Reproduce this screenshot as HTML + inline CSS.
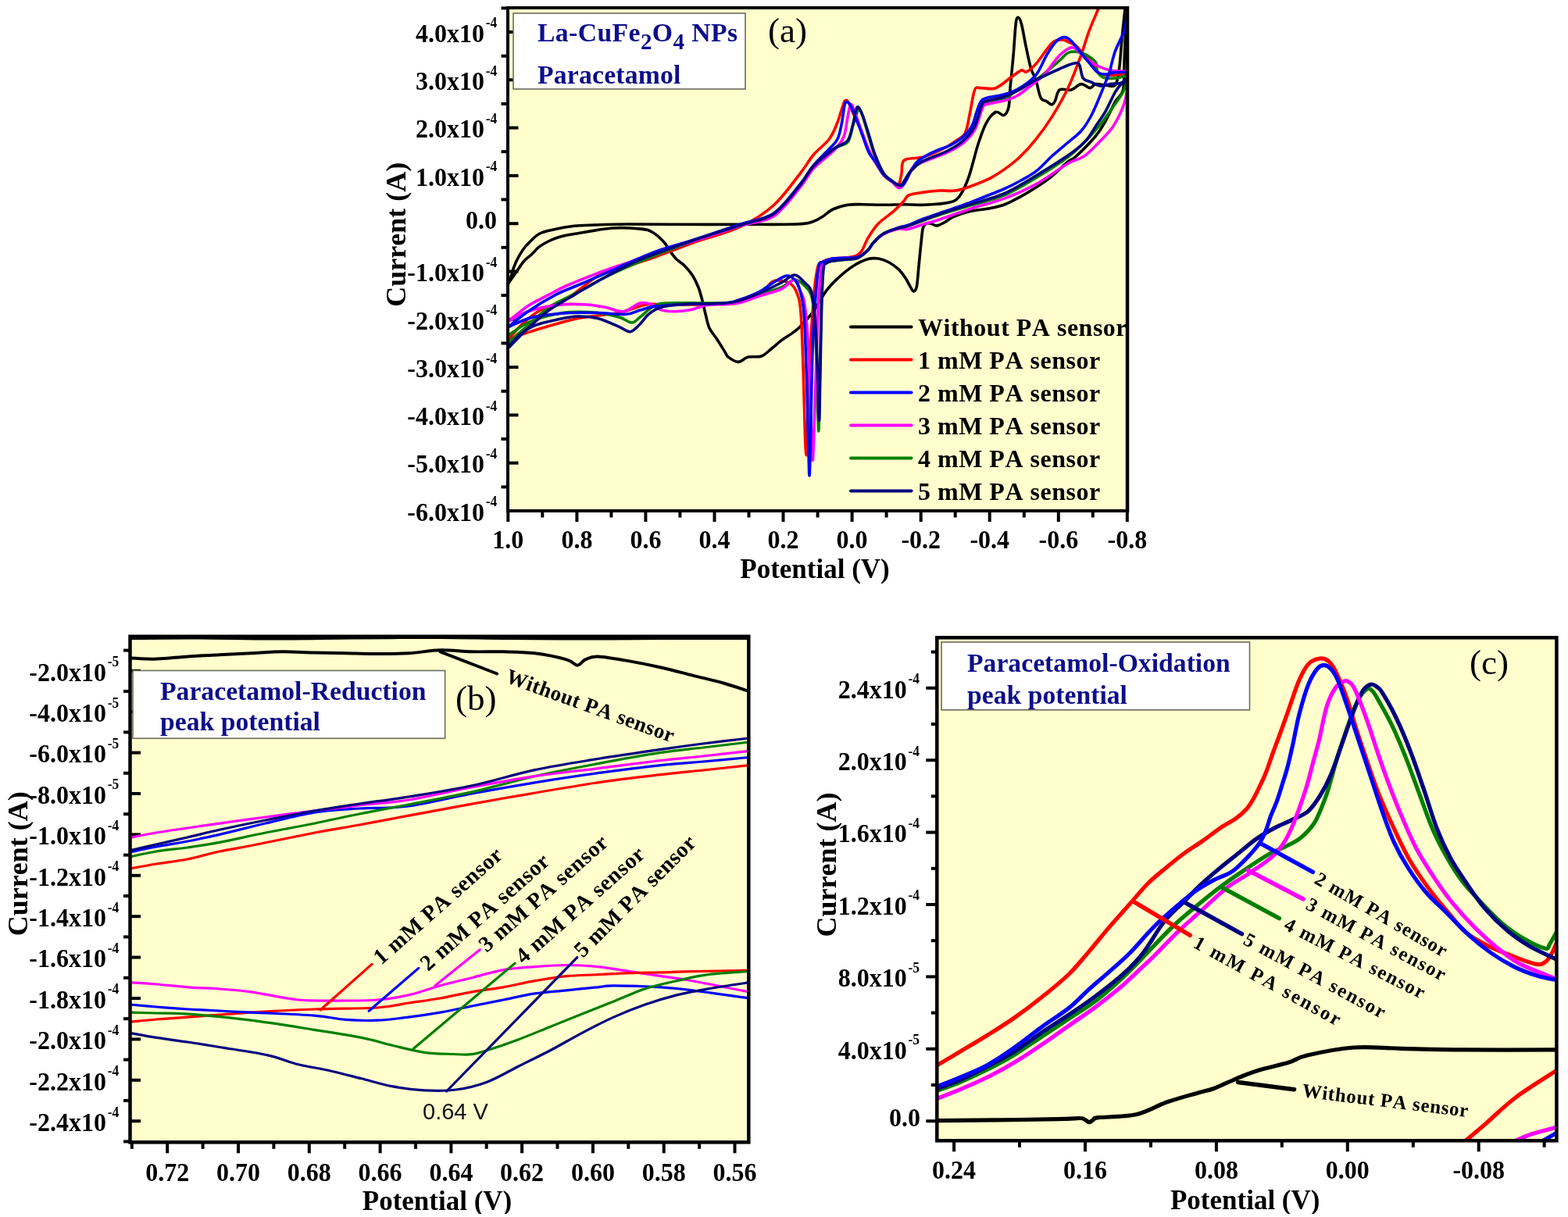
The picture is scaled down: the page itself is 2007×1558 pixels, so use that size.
<!DOCTYPE html><html><head><meta charset="utf-8"><title>Cyclic voltammetry of La-CuFe2O4 NPs paracetamol sensor</title><style>html,body{margin:0;padding:0;background:#fff;overflow:hidden}svg{display:block}</style></head><body>
<svg width="2007" height="1558" viewBox="0 0 2007 1558">
<rect width="2007" height="1558" fill="#fff"/>
<defs>
<clipPath id="ca"><rect x="650" y="10" width="793" height="644"/></clipPath>
<clipPath id="cb"><rect x="166.5" y="814.8" width="791.8" height="647.5"/></clipPath>
<clipPath id="cc"><rect x="1199.3" y="816.3" width="793.1" height="644"/></clipPath>
<clipPath id="cbot"><rect x="0" y="0" width="2007" height="1554"/></clipPath>
</defs>
<rect x="650" y="10" width="793" height="644" fill="#FFFECC"/>
<line x1="650" y1="654" x2="663.5" y2="654" stroke="#000" stroke-width="4" stroke-linecap="butt"/>
<line x1="650" y1="592.7" x2="663.5" y2="592.7" stroke="#000" stroke-width="4" stroke-linecap="butt"/>
<line x1="650" y1="531.4" x2="663.5" y2="531.4" stroke="#000" stroke-width="4" stroke-linecap="butt"/>
<line x1="650" y1="470.1" x2="663.5" y2="470.1" stroke="#000" stroke-width="4" stroke-linecap="butt"/>
<line x1="650" y1="408.8" x2="663.5" y2="408.8" stroke="#000" stroke-width="4" stroke-linecap="butt"/>
<line x1="650" y1="347.5" x2="663.5" y2="347.5" stroke="#000" stroke-width="4" stroke-linecap="butt"/>
<line x1="650" y1="286.2" x2="663.5" y2="286.2" stroke="#000" stroke-width="4" stroke-linecap="butt"/>
<line x1="650" y1="224.9" x2="663.5" y2="224.9" stroke="#000" stroke-width="4" stroke-linecap="butt"/>
<line x1="650" y1="163.6" x2="663.5" y2="163.6" stroke="#000" stroke-width="4" stroke-linecap="butt"/>
<line x1="650" y1="102.3" x2="663.5" y2="102.3" stroke="#000" stroke-width="4" stroke-linecap="butt"/>
<line x1="650" y1="41" x2="663.5" y2="41" stroke="#000" stroke-width="4" stroke-linecap="butt"/>
<g clip-path="url(#ca)" fill="none" stroke-linejoin="round" stroke-linecap="round">
<path d="M1441,30C1440.7,38.3 1439.6,65.8 1439,80C1438.4,94.2 1439.5,106.7 1437.6,115C1435.7,123.3 1431.4,123.3 1427.6,130C1423.8,136.7 1419.2,147.7 1415,155C1410.8,162.3 1408.8,166.5 1402.6,174C1396.3,181.5 1383.4,194.5 1377.5,200C1371.6,205.5 1372.2,202.7 1367,207C1361.8,211.3 1353.2,220.1 1346.4,225.6C1339.6,231.1 1332.8,235.6 1325.9,240C1319.1,244.4 1312,248.7 1305.3,252.3C1298.6,255.9 1292.4,259.3 1286,261.7C1279.6,264.1 1274.2,265.3 1266.7,266.8C1259.2,268.3 1248.4,269 1240.8,270.7C1233.2,272.4 1226.7,274.8 1221.3,277.2C1215.9,279.6 1212.1,283.1 1208.4,285C1204.7,286.9 1202.1,288.7 1199.3,288.9C1196.5,289.1 1193.9,286.7 1191.5,286.3C1189.1,285.9 1186.7,285.2 1185,286.3C1183.3,287.4 1182.3,287.9 1181.2,292.7C1180.1,297.4 1179.5,306.8 1178.6,314.8C1177.7,322.8 1176.9,332.1 1176,340.7C1175.1,349.3 1174.5,361.2 1173.4,366.6C1172.3,372 1170.8,372.8 1169.5,373C1168.2,373.2 1167.3,370.7 1165.6,367.9C1163.9,365.1 1161.8,360.1 1159.2,356.2C1156.6,352.3 1153.7,348.1 1150,344.6C1146.3,341.2 1141.5,337.8 1137.2,335.5C1132.9,333.2 1128.5,331.6 1124.2,331C1119.9,330.4 1116.6,330 1111.2,331.6C1105.8,333.2 1098.3,336.6 1091.8,340.7C1085.3,344.8 1078,351 1072.4,356.2C1066.8,361.4 1063.4,364.5 1058,371.8C1052.6,379.1 1046,392 1040.2,399.9C1034.4,407.8 1027.9,414.3 1023.3,418.9C1018.7,423.5 1016.6,424.6 1012.7,427.4C1008.8,430.2 1004.2,432.7 1000,435.9C995.8,439.1 991.5,443.1 987.3,446.5C983.1,449.9 979.5,454.2 974.6,456C969.7,457.8 962.6,455.9 957.6,457.1C952.6,458.3 949.1,463.4 944.9,463.4C940.7,463.4 935,459.2 932.2,457.1C929.4,455 930.5,454.6 928,450.7C925.5,446.8 920.7,438.9 917.4,433.8C914.1,428.7 910.4,425.3 908,420C905.6,414.7 904.5,407.8 903,402C901.5,396.2 900.5,390.7 899,385C897.5,379.3 896.2,373.5 894,368C891.8,362.5 889,356.7 886,352C883,347.3 879.3,343.3 876,340C872.7,336.7 869,335 866,332C863,329 860.8,325.8 858,322C855.2,318.2 853.3,313.6 849.5,309.5C845.7,305.4 839.8,299.9 835,297.2C830.2,294.5 829.3,294 820.8,293.1C812.3,292.2 798.1,290.9 783.8,292C769.5,293.1 746.3,297.6 734.9,299.5C723.5,301.4 721,301.9 715.6,303.4C710.2,304.9 707.1,306.4 702.8,308.5C698.5,310.6 693.5,313.4 689.9,316.2C686.2,319 684.1,322.2 680.9,325.2C677.7,328.2 673.9,330.6 670.7,334.2C667.5,337.8 664.7,342.7 661.7,347C658.7,351.3 655,356.7 652.7,359.9C650.4,363.1 648.8,365 648,366" stroke="#000000" stroke-width="3.6"/>
<path d="M648,366C648.8,364.8 651.1,362.6 652.7,358.6C654.3,354.6 655.9,347 657.8,341.9C659.7,336.8 661.7,332.3 664.3,327.8C666.9,323.3 668.9,319.6 673.2,314.9C677.5,310.2 683.9,303 689.9,299.5C695.9,296 701.7,295.4 709.2,293.7C716.7,292 726.4,290.2 734.9,289.3C743.4,288.4 748.4,288.4 760,288C771.6,287.6 786.6,287.1 804.3,287C822,286.9 842,287.2 866,287.3C890,287.4 922.3,287.4 948,287.3C973.7,287.2 1004.5,287.6 1020,287C1035.5,286.4 1035.5,285.1 1041,283.5C1046.5,281.9 1048.8,279.8 1053,277.2C1057.2,274.6 1060.6,270.5 1066,268C1071.4,265.5 1078.8,263.4 1085.3,262.3C1091.8,261.2 1097.2,261.7 1104.8,261.7C1112.4,261.7 1122.1,262.3 1130.7,262.3C1139.3,262.3 1148,261.7 1156.6,261.7C1165.2,261.7 1173.1,262.7 1182.5,262.3C1191.9,261.9 1205.4,261.2 1212.9,259.5C1220.4,257.8 1222.8,257.6 1227.3,252.3C1231.8,247 1235.5,239 1239.6,227.7C1243.7,216.4 1248.2,196.2 1252,184.5C1255.8,172.8 1258.5,164.6 1262.2,157.8C1266,151 1270.7,145.2 1274.5,143.5C1278.3,141.8 1282,148.6 1284.8,147.6C1287.5,146.6 1289.6,143.1 1291,137.3C1292.4,131.5 1292,123.7 1293,112.7C1294,101.8 1295.8,85.3 1297,71.6C1298.2,57.9 1299.2,38.7 1300.2,30.5C1301.2,22.3 1302.1,22.3 1303.3,22.3C1304.5,22.3 1305.7,24 1307.4,30.5C1309.1,37 1311.5,51.7 1313.6,61.3C1315.6,70.9 1317.7,81.2 1319.7,88C1321.8,94.8 1323.9,96.2 1325.9,102.4C1328,108.6 1329.7,120.4 1332,125C1334.3,129.6 1337.6,128.5 1340,130C1342.4,131.5 1344.5,134.1 1346.3,133.9C1348,133.8 1348.8,132.2 1350.5,129.1C1352.2,125.9 1352.8,117.3 1356.3,115C1359.8,112.7 1366.7,116.2 1371.3,115C1375.9,113.8 1379.8,108 1383.8,107.6C1387.8,107.2 1391.9,112.6 1395,112.6C1398.1,112.6 1399.3,108.2 1402.6,107.6C1405.9,107 1410.8,108.7 1415,108.9C1419.2,109.1 1424.7,112.5 1427.6,108.9C1430.5,105.4 1431.2,97.4 1432.6,87.6C1434,77.8 1434.8,62.7 1436,50C1437.2,37.3 1439.2,19.6 1440,11.3C1440.8,3 1440.8,1.9 1441,0" stroke="#000000" stroke-width="3.6"/>
<path d="M1409,0C1408.5,1.7 1408.9,3.2 1406.3,10C1403.7,16.8 1397.4,30.5 1393.6,40.8C1389.8,51.1 1387.8,59.6 1383.4,71.6C1379,83.6 1373.2,99.7 1367,112.7C1360.8,125.7 1353.2,138.7 1346.4,149.6C1339.6,160.5 1332.8,169.8 1325.9,178.4C1319.1,187 1312.2,194.5 1305.3,201C1298.4,207.5 1291.6,212.6 1284.8,217.4C1278,222.2 1271.1,226.3 1264.3,229.7C1257.5,233.1 1250.5,235.6 1243.7,238C1236.9,240.4 1230,243 1223.2,244C1216.4,245 1209.6,243.7 1202.7,244C1195.8,244.3 1188.7,245.1 1182.1,246.1C1175.5,247.1 1167.2,248.1 1163,250C1158.8,251.9 1159.8,254.4 1156.6,257.8C1153.4,261.2 1149,265.9 1143.6,270.7C1138.2,275.4 1129.6,280.7 1124.2,286.3C1118.8,291.9 1114.9,298.4 1111.2,304.4C1107.5,310.4 1105.5,318.4 1102,322.5C1098.5,326.6 1096,327.6 1090,329C1084,330.4 1072.2,330 1066,331C1059.8,332 1056.3,332.7 1053,335C1049.7,337.3 1048.2,334.2 1046,345C1043.8,355.8 1041.8,374.2 1040,400C1038.2,425.8 1036.2,471.7 1035,500C1033.8,528.3 1033.5,556.3 1033,570C1032.5,583.7 1032.4,583.7 1032,582C1031.6,580.3 1031.2,578.7 1030.5,560C1029.8,541.3 1028.9,496.7 1028,470C1027.1,443.3 1026.3,415.8 1025,400C1023.7,384.2 1022.5,381.3 1020,375C1017.5,368.7 1015,364.5 1010,362C1005,359.5 996.4,357.6 990,360C983.6,362.4 982.3,371.5 971.8,376.3C961.3,381.1 946.4,386.6 927,388.8C907.6,391 871.7,389.6 855.2,389.7C838.8,389.8 835.8,388.8 828.3,389.7C820.8,390.6 816.4,393.2 810.4,395C804.4,396.8 800,399 792.5,400.5C785,402 774.6,402.8 765.6,404C756.6,405.2 747.7,405.9 738.7,407.7C729.7,409.5 722.2,411.8 711.7,414.8C701.2,417.8 686,422.3 675.9,425.6C665.8,428.9 655,433.1 650.8,434.6" stroke="#FF0000" stroke-width="3.6"/>
<path d="M650.8,434.6C653.5,431.6 660.4,422.7 666.9,416.6C673.4,410.5 680.4,403.6 690,398C699.6,392.4 712.5,390.2 724.7,383C736.9,375.8 752.5,360.9 763,354.7C773.5,348.5 775,350.4 788,346C801,341.6 824.6,333.8 841,328C857.4,322.2 868.7,317.3 886.5,311C904.3,304.7 930.8,298 948,290C965.2,282 977.3,274.3 990,263C1002.7,251.7 1015.5,233.1 1024,222.3C1032.5,211.6 1034.8,205.9 1041,198.5C1047.2,191.1 1056.3,184.8 1061.4,178C1066.5,171.2 1068.7,164.5 1071.5,157.8C1074.3,151.1 1076.3,142.8 1078,138C1079.7,133.2 1080.4,130.1 1081.7,128.9C1083,127.7 1084.3,128.3 1086,131C1087.7,133.7 1089.7,139.8 1092,145C1094.3,150.2 1096.7,154.2 1100,162C1103.3,169.8 1108.7,184.5 1112,192C1115.3,199.5 1116.8,201.7 1120,207C1123.2,212.3 1127.5,219.8 1131,224C1134.5,228.2 1137.8,230 1141,232C1144.2,234 1147.8,237.7 1150,236C1152.2,234.3 1152.8,227.2 1154,222C1155.2,216.8 1152.8,208.5 1157.5,205C1162.2,201.5 1173.8,203.4 1182,201C1190.2,198.6 1199.9,194.1 1206.8,190.7C1213.7,187.3 1218.4,183.8 1223.2,180.4C1228,177 1232.4,176.2 1235.5,170C1238.6,163.8 1239.7,152.7 1241.7,143.5C1243.8,134.3 1245.4,119.8 1247.8,114.7C1250.2,109.6 1251.5,113 1256,112.7C1260.5,112.4 1268,115.1 1274.5,112.7C1281,110.3 1289.5,102.1 1295,98.3C1300.5,94.5 1304.3,91 1307.4,90C1310.5,89 1310.5,93.3 1313.6,92C1316.7,90.7 1320.4,88 1325.9,81.9C1331.4,75.8 1340.9,60.4 1346.4,55.2C1351.9,50.1 1355.6,51.4 1358.7,51C1361.8,50.6 1361.9,51.3 1365,52.6C1368.1,53.9 1374.2,56.3 1377.5,58.8C1380.8,61.3 1382,64.4 1385,67.6C1388,70.8 1392.4,73.7 1395.7,77.8C1399,81.9 1401.8,89 1405,92C1408.2,95 1411.3,95.3 1415,96C1418.7,96.7 1422.3,96.2 1427,96C1431.7,95.8 1440.3,95.2 1443,95" stroke="#FF0000" stroke-width="3.6"/>
<path d="M1443,103C1442.1,105.4 1440.6,112 1437.6,117.6C1434.6,123.2 1429.8,129.5 1425,136.4C1420.2,143.3 1414.6,151.7 1408.8,159C1403,166.3 1397,173 1390,180C1383,187 1377.7,193.1 1367,201C1356.3,208.9 1339.6,219.5 1325.9,227.7C1312.2,235.9 1298.5,244.4 1284.8,250.2C1271.1,256 1257.4,258.5 1243.7,262.6C1230,266.7 1216.4,270.6 1202.7,275C1189,279.4 1170.4,286.5 1161.6,289.3C1152.8,292.1 1155.2,290.4 1150,292C1144.8,293.6 1136.1,296 1130.7,299.2C1125.3,302.4 1121,307.5 1117.7,311C1114.5,314.5 1114.4,316.8 1111.2,320C1108,323.2 1102.7,328 1098.3,330C1093.9,332 1090.4,331.3 1085,332C1079.6,332.7 1070.7,333.2 1066,334C1061.3,334.8 1059.2,335.2 1057,337C1054.8,338.8 1054,334.5 1053,345C1052,355.5 1051.7,374.2 1051,400C1050.3,425.8 1049.5,474.7 1049,500C1048.5,525.3 1048.3,552 1047.8,552C1047.3,552 1046.7,522 1046,500C1045.3,478 1044.7,440 1043.5,420C1042.3,400 1041.2,389 1039,380C1036.8,371 1033.7,369.7 1030,366C1026.3,362.3 1022,357.7 1017,358C1012,358.3 1007.5,364.8 1000,368C992.5,371.2 981,374 971.8,377.2C962.6,380.4 955.5,385.2 945,387C934.5,388.8 924,387.8 909,388C894,388.2 867.2,387.4 855.2,388C843.2,388.6 843.3,388.5 837.3,391.5C831.3,394.5 824.2,402.3 819.4,405.9C814.6,409.5 813.1,413 808.6,413C804.1,413 799.7,408 792.5,405.9C785.3,403.8 776.1,401.6 765.6,400.5C755.1,399.4 740.2,399 729.7,399.6C719.2,400.2 711.8,401.8 702.8,404C693.8,406.2 684.6,408.8 675.9,413C667.2,417.2 655,426.5 650.8,429.2" stroke="#007F00" stroke-width="3.6"/>
<path d="M650.8,438.2C655,434.6 667.2,424.1 675.9,416.6C684.6,409.1 693.8,399.6 702.8,393.3C711.8,387 722.2,382.9 729.7,379C737.2,375.1 739.6,374.3 747.6,370C755.6,365.7 763.8,360 777.6,353.3C791.4,346.6 812.4,337.4 830.5,330C848.6,322.6 866.9,315.8 886.5,309C906.1,302.2 930.8,294.7 948,289C965.2,283.3 977.3,283.5 990,275C1002.7,266.5 1015.5,248.2 1024,238C1032.5,227.8 1033.7,222 1041,214C1048.3,206 1060.7,195.3 1068,190C1075.3,184.7 1081,187 1085,182C1089,177 1089.7,166.9 1092,160C1094.3,153.1 1096.7,142.8 1098.7,140.8C1100.7,138.8 1101.8,142.3 1104,148C1106.2,153.7 1109.3,166.3 1112,175C1114.7,183.7 1116.8,192.2 1120,200C1123.2,207.8 1127.5,216.8 1131,222C1134.5,227.2 1137.3,228.5 1141,231C1144.7,233.5 1149,238.8 1153,237C1157,235.2 1160.5,225 1165,220C1169.5,215 1172,211.3 1180,207C1188,202.7 1204.2,198.3 1213,194C1221.8,189.7 1227.3,186 1233,181C1238.7,176 1243,171.5 1247,164C1251,156.5 1254.2,141.5 1257,136C1259.8,130.5 1259.3,132.5 1264,131C1268.7,129.5 1278.1,130.1 1285,127C1291.9,124 1298.5,116.8 1305.3,112.7C1312.1,108.6 1319.1,106.9 1325.9,102.4C1332.8,98 1340.9,90.6 1346.4,86C1351.9,81.4 1355.4,78.1 1358.8,75C1362.2,71.9 1363.9,69 1367,67.5C1370.1,66 1373.7,65.9 1377.5,66.3C1381.3,66.7 1385.8,67.7 1390,70C1394.2,72.3 1400.1,76.2 1402.6,80C1405.1,83.8 1402.9,89.3 1405,92.6C1407.1,95.9 1410.2,99 1415,100C1419.8,101 1429.2,99.7 1433.9,98.9C1438.6,98.1 1441.5,95.7 1443,95" stroke="#007F00" stroke-width="3.6"/>
<path d="M1443,115C1442.1,118.6 1440.6,128.7 1437.6,136.4C1434.6,144.1 1429.8,154.1 1425,161.4C1420.2,168.7 1415,173.6 1408.8,180C1402.6,186.4 1394.6,195.1 1387.6,200C1380.6,204.9 1377.3,203.2 1367,209.2C1356.7,215.2 1339.6,228.4 1325.9,235.9C1312.2,243.4 1298.5,249.3 1284.8,254.4C1271.1,259.5 1257.4,262.3 1243.7,266.7C1230,271.1 1213,277.6 1202.7,281C1192.4,284.4 1188.8,284.9 1182,287C1175.2,289.1 1166.9,292.4 1161.6,293.4C1156.3,294.4 1155.2,291.9 1150,293C1144.8,294.1 1136.1,297 1130.7,300C1125.3,303 1121,307.7 1117.7,311C1114.5,314.3 1114.4,317 1111.2,320C1108,323 1102.6,327.3 1098.3,329C1094,330.7 1090.7,329.7 1085.3,330C1079.9,330.3 1071,330.1 1066,331C1061,331.9 1057.5,333.2 1055,335.5C1052.5,337.8 1052.3,334.2 1051,345C1049.7,355.8 1048.3,370.8 1047,400C1045.7,429.2 1044.1,488.5 1043,520C1041.9,551.5 1041.1,585.7 1040.3,589C1039.5,592.3 1038.9,563.2 1038,540C1037.1,516.8 1036.3,475 1035,450C1033.7,425 1031.8,403 1030,390C1028.2,377 1026.2,377.3 1024,372C1021.8,366.7 1021,358.3 1017,358C1013,357.7 1007.5,366.5 1000,370C992.5,373.5 981,376 971.8,379C962.6,382 952.5,386.2 945,388C937.5,389.8 933.7,389.3 927,389.7C920.3,390.1 912,389.2 904.7,390.4C897.5,391.6 890.5,395.3 883.5,396.7C876.5,398.1 868.6,398.8 862.4,398.8C856.2,398.8 851.1,398.4 846.3,396.9C841.5,395.4 838.2,391.2 833.7,389.7C829.2,388.2 825.4,386.5 819.4,388C813.4,389.5 805.3,397.8 797.8,398.7C790.3,399.6 782.9,394.8 774.5,393.3C766.1,391.8 758.1,390.1 747.6,389.7C737.1,389.2 723.7,389.1 711.7,390.6C699.8,392.1 686,395.2 675.9,398.7C665.8,402.1 655,409.2 650.8,411.3" stroke="#FF00FF" stroke-width="3.6"/>
<path d="M650.8,411.3C655,408 667.2,397.2 675.9,391.5C684.6,385.8 694.7,381.4 702.8,377.2C710.9,372.9 714,370.7 724.7,366C735.4,361.3 752.9,354.3 767,349C781.1,343.7 796.4,338.9 809.4,334.2C822.4,329.5 832.1,325.2 845,321C857.9,316.8 869.3,314.3 886.5,309C903.7,303.7 930.8,294.3 948,289C965.2,283.7 977.3,285.2 990,277C1002.7,268.8 1015.5,250.2 1024,240C1032.5,229.8 1033.7,224 1041,216C1048.3,208 1061.5,198.8 1068,192C1074.5,185.2 1077.2,182 1080,175C1082.8,168 1083.6,156.8 1085,150C1086.4,143.2 1087.2,135.7 1088.5,134C1089.8,132.3 1091.1,135.7 1093,140C1094.9,144.3 1096.8,151.3 1100,160C1103.2,168.7 1108.7,184.2 1112,192C1115.3,199.8 1116.8,201.7 1120,207C1123.2,212.3 1127.5,219.8 1131,224C1134.5,228.2 1137.3,229.3 1141,232C1144.7,234.7 1148.9,242.8 1153.4,240C1157.9,237.2 1163,220.8 1167.8,215.3C1172.6,209.8 1174.6,210.4 1182.1,207C1189.6,203.6 1204.4,198.9 1213,194.8C1221.6,190.7 1227.7,187.3 1233.5,182.5C1239.3,177.7 1243.7,173.5 1247.8,166C1251.9,158.5 1255.2,142.8 1258,137.3C1260.8,131.8 1259.8,134.6 1264.3,133.2C1268.8,131.8 1278.6,130.8 1284.8,129.1C1291,127.4 1296.1,125.7 1301.2,123C1306.3,120.3 1309.8,117.2 1315.6,112.7C1321.4,108.2 1329.8,102.5 1336,96.2C1342.2,89.9 1347.7,80.4 1352.5,75C1357.3,69.6 1361.2,66.1 1365,63.8C1368.8,61.5 1370.8,59.4 1375,61.3C1379.2,63.2 1384.8,71 1390,75C1395.2,79 1401.1,82.5 1406.3,85C1411.5,87.5 1415.3,88.9 1421.4,90C1427.5,91.1 1439.4,91.2 1443,91.4" stroke="#FF00FF" stroke-width="3.6"/>
<path d="M1443,0C1442.9,2.1 1443.1,6.5 1442.6,12.5C1442.1,18.6 1441.3,30.2 1440,36.3C1438.7,42.3 1437.1,44 1435,48.8C1432.9,53.6 1429.7,59.4 1427.6,65C1425.5,70.6 1423.8,78 1422.6,82.6C1421.3,87.2 1421.8,87.8 1420.1,92.6C1418.4,97.4 1415.1,105.2 1412.6,111.4C1410.1,117.6 1407.7,123.7 1405,130C1402.3,136.3 1399.8,142.7 1396.3,149C1392.8,155.3 1389,161.9 1383.8,167.7C1378.6,173.5 1371.2,178.6 1365,184C1358.8,189.4 1352.8,194.1 1346.3,200C1339.8,205.9 1332.8,214.1 1325.9,219.4C1319,224.7 1311.8,228.2 1305,232C1298.2,235.8 1292.3,238.7 1284.8,242C1277.3,245.3 1268.4,248.7 1260,252C1251.6,255.3 1242.9,258.8 1234.3,262C1225.7,265.2 1217,268 1208.4,271C1199.8,274 1190.1,277.2 1182.5,280C1174.9,282.8 1168.4,286.1 1163,288C1157.6,289.9 1155.4,289.6 1150,291.5C1144.6,293.4 1136.1,295.9 1130.7,299.2C1125.3,302.4 1121,307.5 1117.7,311C1114.5,314.5 1114.4,317 1111.2,320C1108,323 1102.6,327.3 1098.3,329C1094,330.7 1090.7,329.7 1085.3,330C1079.9,330.3 1071.4,330.1 1066,331C1060.6,331.9 1056,333.8 1053,335.5C1050,337.2 1049.5,333.6 1048,341C1046.5,348.4 1045.3,361.8 1044,380C1042.7,398.2 1041.1,420 1040,450C1038.9,480 1038.2,533.5 1037.5,560C1036.8,586.5 1036.5,609 1036,609C1035.5,609 1035.2,583.2 1034.5,560C1033.8,536.8 1032.9,496.7 1032,470C1031.1,443.3 1030.3,416.3 1029,400C1027.7,383.7 1026,379 1024,372C1022,365 1019.8,361.2 1017,358C1014.2,354.8 1011.5,352.4 1007,353C1002.5,353.6 995.9,358.2 990,361.6C984.1,365 979.3,369.8 971.8,373.6C964.3,377.4 952.5,381.9 945,384.3C937.5,386.7 939,387.1 927,388C915,388.9 888.2,389 873.2,389.7C858.2,390.4 846.3,391.2 837.3,392.4C828.3,393.6 825.4,395.4 819.4,397C813.4,398.6 810.4,401.7 801.4,402.3C792.4,402.9 777.5,400.8 765.6,400.5C753.7,400.2 741.7,399.9 729.7,400.5C717.7,401.1 702.8,402.8 693.8,404C684.8,405.2 683.1,405.3 675.9,407.7C668.7,410.1 655,416.6 650.8,418.4" stroke="#0000FF" stroke-width="3.6"/>
<path d="M650.8,418.4C655,415.1 665.8,405.6 675.9,398.7C686,391.8 701,382.8 711.7,377.2C722.4,371.6 730.8,369 740,365C749.2,361 756.3,358 767,353.3C777.7,348.6 791,342.6 804,337C817,331.4 831.2,324.9 845,320C858.8,315.1 869.3,313 886.5,307.5C903.7,302 930.8,292.7 948,287C965.2,281.3 977.3,281.8 990,273.3C1002.7,264.8 1015.5,246.2 1024,236C1032.5,225.8 1034.7,219.7 1041,212C1047.3,204.3 1056.8,195.7 1062,190C1067.2,184.3 1069.5,183 1072,178C1074.5,173 1075.5,167.2 1077,160C1078.5,152.8 1079.9,139.9 1081,135C1082.1,130.1 1082.2,130.8 1083.4,130.6C1084.6,130.4 1086.1,130.8 1088,134C1089.9,137.2 1092.7,144.3 1095,150C1097.3,155.7 1099.2,160.5 1102,168C1104.8,175.5 1108.9,188.5 1112,195C1115.1,201.5 1117.3,202.2 1120.5,207C1123.7,211.8 1127.6,219.5 1131,223.6C1134.4,227.7 1137.3,229.4 1141,231.8C1144.7,234.2 1150.3,238 1153.4,238C1156.5,238 1157.5,234.9 1159.5,231.8C1161.5,228.7 1163.3,223.5 1165.7,219.4C1168.1,215.3 1170.6,210.4 1174,207C1177.4,203.6 1181.9,201.4 1186,199C1190.1,196.6 1193.8,194.9 1198.6,192.8C1203.4,190.7 1209.5,189.3 1215,186.6C1220.5,183.8 1226.6,180.4 1231.4,176.3C1236.2,172.2 1240.6,167.5 1243.7,162C1246.8,156.5 1248,149 1250,143.5C1252,138 1253.6,132.1 1256,129C1258.4,125.9 1259.5,126.3 1264.3,125C1269.1,123.7 1278,123 1284.8,121C1291.6,119 1298.4,116.8 1305.3,112.7C1312.2,108.6 1320.1,103.3 1325.9,96.2C1331.7,89.1 1335.6,77.3 1340,70C1344.4,62.7 1348.8,56.3 1352.5,52.6C1356.2,48.9 1359.4,47.6 1362.5,47.6C1365.6,47.6 1368.2,49.7 1371.3,52.6C1374.4,55.5 1377.5,60.4 1381.3,65C1385,69.6 1389.8,75.4 1393.8,80C1397.8,84.6 1401.5,90.1 1405,92.6C1408.5,95.1 1411.2,95 1415,95C1418.8,95 1422.9,93 1427.6,92.6C1432.3,92.2 1440.4,92.6 1443,92.6" stroke="#0000FF" stroke-width="3.6"/>
<path d="M1443,100C1442.1,100.8 1440.2,102.1 1437.6,105C1435,107.9 1431.4,111.3 1427.6,117.6C1423.8,123.9 1419.2,135.4 1415,142.7C1410.8,150 1406.8,155.2 1402.6,161.4C1398.4,167.6 1395.2,174.2 1390,180C1384.8,185.8 1382,188.5 1371.3,196C1360.6,203.5 1340.3,216.3 1325.9,225C1311.5,233.7 1298.5,242 1284.8,248C1271.1,254 1257.4,256.7 1243.7,261C1230,265.3 1216.4,269.3 1202.7,274C1189,278.7 1170.4,286.3 1161.6,289.3C1152.8,292.3 1155.2,290.4 1150,292C1144.8,293.6 1136.1,296 1130.7,299.2C1125.3,302.4 1121,307.5 1117.7,311C1114.5,314.5 1114.4,316.8 1111.2,320C1108,323.2 1102.7,328 1098.3,330C1093.9,332 1090.4,331.3 1085,332C1079.6,332.7 1070.5,333.2 1066,334C1061.5,334.8 1060,335.2 1058,337C1056,338.8 1055.1,334.5 1054,345C1052.9,355.5 1052.2,374.2 1051.5,400C1050.8,425.8 1050,477 1049.5,500C1049,523 1048.9,539.7 1048.5,538C1048.1,536.3 1047.8,509.7 1047,490C1046.2,470.3 1045.3,439.2 1044,420C1042.7,400.8 1041.3,384.7 1039,375C1036.7,365.3 1033.7,365.8 1030,362C1026.3,358.2 1022,352 1017,352C1012,352 1007.5,358.1 1000,362C992.5,365.9 981,371.5 971.8,375.4C962.6,379.3 952.5,383.1 945,385.2C937.5,387.3 939,387.2 927,388C915,388.8 886.7,388.8 873.2,389.7C859.8,390.6 853.5,391.2 846.3,393.3C839.1,395.4 834.6,398.7 830.1,402.3C825.6,405.9 823.3,411.1 819.4,414.8C815.5,418.5 811.3,424.1 806.8,424.7C802.3,425.3 799.4,421.2 792.5,418.4C785.6,415.6 774.6,409.9 765.6,407.7C756.6,405.5 747.7,404.7 738.7,405C729.7,405.3 720.7,407.6 711.7,409.5C702.7,411.4 692.3,413.6 684.8,416.6C677.3,419.6 672.6,422.9 666.9,427.4C661.2,431.9 653.5,440.8 650.8,443.5" stroke="#000080" stroke-width="3.6"/>
<path d="M650.8,445.3C655,441.1 667.2,428.2 675.9,420.2C684.6,412.1 693.8,403.6 702.8,397C711.8,390.4 722.2,385.3 729.7,380.8C737.2,376.3 739.2,374.8 747.6,370C756,365.2 767.9,358.3 780,352C792.1,345.7 802.2,339.3 820,332C837.8,324.7 865.2,315.3 886.5,308C907.8,300.7 930.8,293.7 948,288C965.2,282.3 977.3,282.5 990,274C1002.7,265.5 1015.5,247.2 1024,237C1032.5,226.8 1033.7,220.8 1041,213C1048.3,205.2 1060.7,195.5 1068,190C1075.3,184.5 1081,185.3 1085,180C1089,174.7 1090,165.1 1092,158C1094,150.9 1095.2,139.6 1097,137.4C1098.8,135.2 1100.5,139.2 1103,145C1105.5,150.8 1109.2,163.2 1112,172C1114.8,180.8 1116.8,189.7 1120,198C1123.2,206.3 1127.5,216.5 1131,222C1134.5,227.5 1137.3,228.5 1141,231C1144.7,233.5 1149,238.8 1153,237C1157,235.2 1160.5,225 1165,220C1169.5,215 1172,211.5 1180,207C1188,202.5 1204.2,197.5 1213,193C1221.8,188.5 1227.3,185 1233,180C1238.7,175 1243,170.7 1247,163C1251,155.3 1254.2,139.7 1257,134C1259.8,128.3 1259.3,130.7 1264,129C1268.7,127.3 1278.1,126.4 1285,124C1291.9,121.6 1298.5,118.3 1305.3,114.7C1312.1,111.1 1317.3,106.9 1325.9,102.4C1334.5,98 1348.7,91.5 1356.7,88C1364.7,84.5 1369.7,82.2 1373.8,81.3C1377.9,80.4 1379.2,79.5 1381.3,82.6C1383.4,85.7 1383.8,96.3 1386.3,100C1388.8,103.7 1392.5,103.3 1396.3,105C1400,106.7 1404.6,109.6 1408.8,110C1413,110.4 1417.2,108.2 1421.4,107.6C1425.6,107 1430.3,107.2 1433.9,106.4C1437.5,105.6 1441.5,103.2 1443,102.6" stroke="#000080" stroke-width="3.6"/>
</g>
<rect x="650" y="10" width="793" height="644" fill="none" stroke="#000" stroke-width="4"/>
<line x1="641.5" y1="623.4" x2="650" y2="623.4" stroke="#000" stroke-width="4" stroke-linecap="butt"/>
<line x1="641.5" y1="562" x2="650" y2="562" stroke="#000" stroke-width="4" stroke-linecap="butt"/>
<line x1="641.5" y1="500.8" x2="650" y2="500.8" stroke="#000" stroke-width="4" stroke-linecap="butt"/>
<line x1="641.5" y1="439.4" x2="650" y2="439.4" stroke="#000" stroke-width="4" stroke-linecap="butt"/>
<line x1="641.5" y1="378.1" x2="650" y2="378.1" stroke="#000" stroke-width="4" stroke-linecap="butt"/>
<line x1="641.5" y1="316.8" x2="650" y2="316.8" stroke="#000" stroke-width="4" stroke-linecap="butt"/>
<line x1="641.5" y1="255.5" x2="650" y2="255.5" stroke="#000" stroke-width="4" stroke-linecap="butt"/>
<line x1="641.5" y1="194.2" x2="650" y2="194.2" stroke="#000" stroke-width="4" stroke-linecap="butt"/>
<line x1="641.5" y1="132.9" x2="650" y2="132.9" stroke="#000" stroke-width="4" stroke-linecap="butt"/>
<line x1="641.5" y1="71.7" x2="650" y2="71.7" stroke="#000" stroke-width="4" stroke-linecap="butt"/>
<line x1="641.5" y1="10.4" x2="650" y2="10.4" stroke="#000" stroke-width="4" stroke-linecap="butt"/>
<text transform="translate(620,53.7) scale(0.97,1)" font-family="'Liberation Serif','Times New Roman',serif" font-size="33" font-weight="bold" fill="#000" text-anchor="end" style="font-kerning:none">4.0x10</text>
<text transform="translate(621.8,35.4) scale(0.97,1)" font-family="'Liberation Serif','Times New Roman',serif" font-size="18" font-weight="bold" fill="#000" text-anchor="start" style="font-kerning:none">-4</text>
<text transform="translate(620,115) scale(0.97,1)" font-family="'Liberation Serif','Times New Roman',serif" font-size="33" font-weight="bold" fill="#000" text-anchor="end" style="font-kerning:none">3.0x10</text>
<text transform="translate(621.8,96.7) scale(0.97,1)" font-family="'Liberation Serif','Times New Roman',serif" font-size="18" font-weight="bold" fill="#000" text-anchor="start" style="font-kerning:none">-4</text>
<text transform="translate(620,176.3) scale(0.97,1)" font-family="'Liberation Serif','Times New Roman',serif" font-size="33" font-weight="bold" fill="#000" text-anchor="end" style="font-kerning:none">2.0x10</text>
<text transform="translate(621.8,158) scale(0.97,1)" font-family="'Liberation Serif','Times New Roman',serif" font-size="18" font-weight="bold" fill="#000" text-anchor="start" style="font-kerning:none">-4</text>
<text transform="translate(620,237.6) scale(0.97,1)" font-family="'Liberation Serif','Times New Roman',serif" font-size="33" font-weight="bold" fill="#000" text-anchor="end" style="font-kerning:none">1.0x10</text>
<text transform="translate(621.8,219.3) scale(0.97,1)" font-family="'Liberation Serif','Times New Roman',serif" font-size="18" font-weight="bold" fill="#000" text-anchor="start" style="font-kerning:none">-4</text>
<text transform="translate(636,292.7) scale(0.97,1)" font-family="'Liberation Serif','Times New Roman',serif" font-size="33" font-weight="bold" fill="#000" text-anchor="end" style="font-kerning:none">0.0</text>
<text transform="translate(620,360.2) scale(0.97,1)" font-family="'Liberation Serif','Times New Roman',serif" font-size="33" font-weight="bold" fill="#000" text-anchor="end" style="font-kerning:none">-1.0x10</text>
<text transform="translate(621.8,341.9) scale(0.97,1)" font-family="'Liberation Serif','Times New Roman',serif" font-size="18" font-weight="bold" fill="#000" text-anchor="start" style="font-kerning:none">-4</text>
<text transform="translate(620,421.5) scale(0.97,1)" font-family="'Liberation Serif','Times New Roman',serif" font-size="33" font-weight="bold" fill="#000" text-anchor="end" style="font-kerning:none">-2.0x10</text>
<text transform="translate(621.8,403.2) scale(0.97,1)" font-family="'Liberation Serif','Times New Roman',serif" font-size="18" font-weight="bold" fill="#000" text-anchor="start" style="font-kerning:none">-4</text>
<text transform="translate(620,482.8) scale(0.97,1)" font-family="'Liberation Serif','Times New Roman',serif" font-size="33" font-weight="bold" fill="#000" text-anchor="end" style="font-kerning:none">-3.0x10</text>
<text transform="translate(621.8,464.5) scale(0.97,1)" font-family="'Liberation Serif','Times New Roman',serif" font-size="18" font-weight="bold" fill="#000" text-anchor="start" style="font-kerning:none">-4</text>
<text transform="translate(620,544.1) scale(0.97,1)" font-family="'Liberation Serif','Times New Roman',serif" font-size="33" font-weight="bold" fill="#000" text-anchor="end" style="font-kerning:none">-4.0x10</text>
<text transform="translate(621.8,525.8) scale(0.97,1)" font-family="'Liberation Serif','Times New Roman',serif" font-size="18" font-weight="bold" fill="#000" text-anchor="start" style="font-kerning:none">-4</text>
<text transform="translate(620,605.4) scale(0.97,1)" font-family="'Liberation Serif','Times New Roman',serif" font-size="33" font-weight="bold" fill="#000" text-anchor="end" style="font-kerning:none">-5.0x10</text>
<text transform="translate(621.8,587.1) scale(0.97,1)" font-family="'Liberation Serif','Times New Roman',serif" font-size="18" font-weight="bold" fill="#000" text-anchor="start" style="font-kerning:none">-4</text>
<text transform="translate(620,666.7) scale(0.97,1)" font-family="'Liberation Serif','Times New Roman',serif" font-size="33" font-weight="bold" fill="#000" text-anchor="end" style="font-kerning:none">-6.0x10</text>
<text transform="translate(621.8,648.4) scale(0.97,1)" font-family="'Liberation Serif','Times New Roman',serif" font-size="18" font-weight="bold" fill="#000" text-anchor="start" style="font-kerning:none">-4</text>
<line x1="650.3" y1="654" x2="650.3" y2="668" stroke="#000" stroke-width="4" stroke-linecap="butt"/>
<text transform="translate(650.3,701.5) scale(0.97,1)" font-family="'Liberation Serif','Times New Roman',serif" font-size="33" font-weight="bold" fill="#000" text-anchor="middle" style="font-kerning:none">1.0</text>
<line x1="694.3" y1="654" x2="694.3" y2="662.5" stroke="#000" stroke-width="4" stroke-linecap="butt"/>
<line x1="738.4" y1="654" x2="738.4" y2="668" stroke="#000" stroke-width="4" stroke-linecap="butt"/>
<text transform="translate(738.4,701.5) scale(0.97,1)" font-family="'Liberation Serif','Times New Roman',serif" font-size="33" font-weight="bold" fill="#000" text-anchor="middle" style="font-kerning:none">0.8</text>
<line x1="782.4" y1="654" x2="782.4" y2="662.5" stroke="#000" stroke-width="4" stroke-linecap="butt"/>
<line x1="826.4" y1="654" x2="826.4" y2="668" stroke="#000" stroke-width="4" stroke-linecap="butt"/>
<text transform="translate(826.4,701.5) scale(0.97,1)" font-family="'Liberation Serif','Times New Roman',serif" font-size="33" font-weight="bold" fill="#000" text-anchor="middle" style="font-kerning:none">0.6</text>
<line x1="870.4" y1="654" x2="870.4" y2="662.5" stroke="#000" stroke-width="4" stroke-linecap="butt"/>
<line x1="914.5" y1="654" x2="914.5" y2="668" stroke="#000" stroke-width="4" stroke-linecap="butt"/>
<text transform="translate(914.5,701.5) scale(0.97,1)" font-family="'Liberation Serif','Times New Roman',serif" font-size="33" font-weight="bold" fill="#000" text-anchor="middle" style="font-kerning:none">0.4</text>
<line x1="958.5" y1="654" x2="958.5" y2="662.5" stroke="#000" stroke-width="4" stroke-linecap="butt"/>
<line x1="1002.5" y1="654" x2="1002.5" y2="668" stroke="#000" stroke-width="4" stroke-linecap="butt"/>
<text transform="translate(1002.5,701.5) scale(0.97,1)" font-family="'Liberation Serif','Times New Roman',serif" font-size="33" font-weight="bold" fill="#000" text-anchor="middle" style="font-kerning:none">0.2</text>
<line x1="1046.6" y1="654" x2="1046.6" y2="662.5" stroke="#000" stroke-width="4" stroke-linecap="butt"/>
<line x1="1090.6" y1="654" x2="1090.6" y2="668" stroke="#000" stroke-width="4" stroke-linecap="butt"/>
<text transform="translate(1090.6,701.5) scale(0.97,1)" font-family="'Liberation Serif','Times New Roman',serif" font-size="33" font-weight="bold" fill="#000" text-anchor="middle" style="font-kerning:none">0.0</text>
<line x1="1134.6" y1="654" x2="1134.6" y2="662.5" stroke="#000" stroke-width="4" stroke-linecap="butt"/>
<line x1="1178.7" y1="654" x2="1178.7" y2="668" stroke="#000" stroke-width="4" stroke-linecap="butt"/>
<text transform="translate(1178.7,701.5) scale(0.97,1)" font-family="'Liberation Serif','Times New Roman',serif" font-size="33" font-weight="bold" fill="#000" text-anchor="middle" style="font-kerning:none">-0.2</text>
<line x1="1222.7" y1="654" x2="1222.7" y2="662.5" stroke="#000" stroke-width="4" stroke-linecap="butt"/>
<line x1="1266.7" y1="654" x2="1266.7" y2="668" stroke="#000" stroke-width="4" stroke-linecap="butt"/>
<text transform="translate(1266.7,701.5) scale(0.97,1)" font-family="'Liberation Serif','Times New Roman',serif" font-size="33" font-weight="bold" fill="#000" text-anchor="middle" style="font-kerning:none">-0.4</text>
<line x1="1310.8" y1="654" x2="1310.8" y2="662.5" stroke="#000" stroke-width="4" stroke-linecap="butt"/>
<line x1="1354.8" y1="654" x2="1354.8" y2="668" stroke="#000" stroke-width="4" stroke-linecap="butt"/>
<text transform="translate(1354.8,701.5) scale(0.97,1)" font-family="'Liberation Serif','Times New Roman',serif" font-size="33" font-weight="bold" fill="#000" text-anchor="middle" style="font-kerning:none">-0.6</text>
<line x1="1398.8" y1="654" x2="1398.8" y2="662.5" stroke="#000" stroke-width="4" stroke-linecap="butt"/>
<line x1="1442.8" y1="654" x2="1442.8" y2="668" stroke="#000" stroke-width="4" stroke-linecap="butt"/>
<text transform="translate(1442.8,701.5) scale(0.97,1)" font-family="'Liberation Serif','Times New Roman',serif" font-size="33" font-weight="bold" fill="#000" text-anchor="middle" style="font-kerning:none">-0.8</text>
<text transform="translate(1043,739.8) scale(1,1)" font-family="'Liberation Serif','Times New Roman',serif" font-size="35" font-weight="bold" fill="#000" text-anchor="middle" style="font-kerning:none">Potential (V)</text>
<text transform="translate(518.5,300.3) rotate(-90)" font-family="'Liberation Serif','Times New Roman',serif" font-size="36" font-weight="bold" text-anchor="middle" style="font-kerning:none">Current (A)</text>
<rect x="657" y="17" width="297" height="97" fill="#fff" stroke="#6a6a5c" stroke-width="1.6"/>
<text x="688" y="53" font-family="'Liberation Serif','Times New Roman',serif" font-size="33.7" font-weight="bold" fill="#0E0E8A" letter-spacing="0.4" style="font-kerning:none">La-CuFe<tspan font-size="29" dy="10">2</tspan><tspan dy="-10">O</tspan><tspan font-size="29" dy="10">4</tspan><tspan dy="-10"> NPs</tspan></text>
<text x="688" y="106.5" font-family="'Liberation Serif','Times New Roman',serif" font-size="33.7" font-weight="bold" fill="#0E0E8A" text-anchor="start" letter-spacing="0.2" style="font-kerning:none">Paracetamol</text>
<text x="983" y="54" font-family="'Liberation Serif','Times New Roman',serif" font-size="45" font-weight="normal" fill="#000" text-anchor="start" style="font-kerning:none">(a)</text>
<line x1="1089" y1="418.4" x2="1166.5" y2="418.4" stroke="#000000" stroke-width="4" stroke-linecap="round"/>
<text x="1175" y="429.9" font-family="'Liberation Serif','Times New Roman',serif" font-size="32" font-weight="bold" fill="#000" text-anchor="start" letter-spacing="0.5" style="font-kerning:none">Without PA sensor</text>
<line x1="1089" y1="460.4" x2="1166.5" y2="460.4" stroke="#FF0000" stroke-width="4" stroke-linecap="round"/>
<text x="1175" y="471.9" font-family="'Liberation Serif','Times New Roman',serif" font-size="32" font-weight="bold" fill="#000" text-anchor="start" letter-spacing="0.5" style="font-kerning:none">1 mM PA sensor</text>
<line x1="1089" y1="502.5" x2="1166.5" y2="502.5" stroke="#0000FF" stroke-width="4" stroke-linecap="round"/>
<text x="1175" y="514" font-family="'Liberation Serif','Times New Roman',serif" font-size="32" font-weight="bold" fill="#000" text-anchor="start" letter-spacing="0.5" style="font-kerning:none">2 mM PA sensor</text>
<line x1="1089" y1="544.5" x2="1166.5" y2="544.5" stroke="#FF00FF" stroke-width="4" stroke-linecap="round"/>
<text x="1175" y="556" font-family="'Liberation Serif','Times New Roman',serif" font-size="32" font-weight="bold" fill="#000" text-anchor="start" letter-spacing="0.5" style="font-kerning:none">3 mM PA sensor</text>
<line x1="1089" y1="586.6" x2="1166.5" y2="586.6" stroke="#007F00" stroke-width="4" stroke-linecap="round"/>
<text x="1175" y="598.1" font-family="'Liberation Serif','Times New Roman',serif" font-size="32" font-weight="bold" fill="#000" text-anchor="start" letter-spacing="0.5" style="font-kerning:none">4 mM PA sensor</text>
<line x1="1089" y1="628.6" x2="1166.5" y2="628.6" stroke="#000080" stroke-width="4" stroke-linecap="round"/>
<text x="1175" y="640.1" font-family="'Liberation Serif','Times New Roman',serif" font-size="32" font-weight="bold" fill="#000" text-anchor="start" letter-spacing="0.5" style="font-kerning:none">5 mM PA sensor</text>
<line x1="1443" y1="8" x2="1443" y2="656" stroke="#000" stroke-width="4.5" stroke-linecap="butt"/>
<rect x="166.5" y="814.8" width="791.8" height="647.5" fill="#FFFECC"/>
<line x1="166.5" y1="1435.2" x2="180" y2="1435.2" stroke="#000" stroke-width="4" stroke-linecap="butt"/>
<line x1="166.5" y1="1382.8" x2="180" y2="1382.8" stroke="#000" stroke-width="4" stroke-linecap="butt"/>
<line x1="166.5" y1="1330.4" x2="180" y2="1330.4" stroke="#000" stroke-width="4" stroke-linecap="butt"/>
<line x1="166.5" y1="1278" x2="180" y2="1278" stroke="#000" stroke-width="4" stroke-linecap="butt"/>
<line x1="166.5" y1="1225.6" x2="180" y2="1225.6" stroke="#000" stroke-width="4" stroke-linecap="butt"/>
<line x1="166.5" y1="1173.2" x2="180" y2="1173.2" stroke="#000" stroke-width="4" stroke-linecap="butt"/>
<line x1="166.5" y1="1120.8" x2="180" y2="1120.8" stroke="#000" stroke-width="4" stroke-linecap="butt"/>
<line x1="166.5" y1="1068.4" x2="180" y2="1068.4" stroke="#000" stroke-width="4" stroke-linecap="butt"/>
<line x1="166.5" y1="1016" x2="180" y2="1016" stroke="#000" stroke-width="4" stroke-linecap="butt"/>
<line x1="166.5" y1="963.6" x2="180" y2="963.6" stroke="#000" stroke-width="4" stroke-linecap="butt"/>
<line x1="166.5" y1="911.2" x2="180" y2="911.2" stroke="#000" stroke-width="4" stroke-linecap="butt"/>
<line x1="166.5" y1="858.8" x2="180" y2="858.8" stroke="#000" stroke-width="4" stroke-linecap="butt"/>
<g clip-path="url(#cb)" fill="none" stroke-linejoin="round" stroke-linecap="round">
<path d="M167,817C180.8,816.9 219.5,816.4 250,816.5C280.5,816.6 316.7,817.5 350,817.5C383.3,817.5 414.4,816.8 450,816.5C485.6,816.2 530.2,815.9 563.5,816C596.8,816.1 618.9,816.8 650,817C681.1,817.2 716.7,817.5 750,817.5C783.3,817.5 815.3,817.1 850,817C884.7,816.9 940,817 958,817" stroke="#000000" stroke-width="4"/>
<path d="M168,842.4C173.4,842.6 188.3,843.9 200.4,843.6C212.5,843.3 227.3,841.3 240.7,840.4C254.1,839.5 267.6,839 281,838.3C294.4,837.6 307.9,837 321.4,836.3C334.9,835.6 348.4,834.4 361.8,834.3C375.2,834.2 388.6,835.2 402,835.5C415.4,835.8 429,836 442.5,836.3C456,836.6 469.4,837.1 482.8,837.1C496.2,837.1 509.8,837.1 523.2,836.3C536.7,835.5 550,832.6 563.5,832.3C577,832 590.5,834 604,834.3C617.5,834.6 630.9,834 644.3,834.3C657.7,834.6 671.1,834.6 684.6,836.3C698.1,838 715.9,841.8 725,844.4C734.1,847 735.1,851.7 739.1,851.7C743.1,851.7 744.8,846.3 749.2,844.4C753.6,842.5 755.9,840.1 765.3,840.4C774.7,840.7 792.2,844 805.7,846.4C819.2,848.8 832.5,851.5 846,854.5C859.5,857.5 872.9,861.2 886.4,864.6C899.9,868 914.6,871.3 926.7,874.7C938.8,878.1 953.6,883.3 959,885" stroke="#000000" stroke-width="4"/>
<path d="M166,1112C171.7,1111 187.6,1108 200,1106C212.4,1104 227.2,1102.5 240.7,1099.8C254.2,1097.1 267.6,1092.9 281,1090C294.4,1087.1 301.2,1086.5 321.4,1082.5C341.6,1078.5 378.9,1070.7 402,1066.3C425.1,1061.9 439.8,1059.7 460,1056C480.2,1052.3 492.5,1049.8 523.2,1044.1C553.9,1038.4 603.9,1029 644.3,1022C684.6,1015 731.7,1006.8 765.3,1001.8C798.9,996.8 823.5,994.3 846,991.7C868.5,989.1 881.2,988 900,986C918.8,984 949.2,980.7 959,979.6" stroke="#FF0000" stroke-width="3.2"/>
<path d="M166,1091C171.7,1089.8 187.7,1086.3 200,1084C212.3,1081.7 226.5,1079.6 240,1077C253.5,1074.4 264.3,1072.2 281,1068.4C297.7,1064.6 319.8,1058.7 340,1054C360.2,1049.3 382,1043.3 402,1040.1C422,1036.9 439.8,1036.3 460,1035C480.2,1033.7 499.2,1035.2 523.2,1032C547.2,1028.8 577.1,1020.9 604,1015.9C630.9,1010.9 657.7,1006.2 684.6,1001.8C711.5,997.4 738.4,993.4 765.3,989.7C792.2,986 823.5,982.1 846,979.6C868.5,977.1 881.2,976.7 900,975C918.8,973.3 949.2,970.4 959,969.5" stroke="#0000FF" stroke-width="3.2"/>
<path d="M166,1097C171.7,1095.8 187.7,1092 200,1090C212.3,1088 226.5,1086.9 240,1085C253.5,1083.1 264.3,1081.6 281,1078.4C297.7,1075.2 319.8,1070 340,1066C360.2,1062 382,1058.2 402,1054.2C422,1050.2 439.8,1046 460,1042C480.2,1038 499.2,1034.7 523.2,1030C547.2,1025.3 577.1,1019.9 604,1013.9C630.9,1007.9 657.7,999.8 684.6,993.7C711.5,987.7 738.4,982.7 765.3,977.6C792.2,972.5 823.5,966.8 846,963.4C868.5,960 881.2,959.2 900,957C918.8,954.8 949.2,951.2 959,950" stroke="#007F00" stroke-width="3.2"/>
<path d="M166,1072.4C171.7,1071.3 187.7,1068.1 200,1066C212.3,1063.9 226.5,1062 240,1060C253.5,1058 264.3,1056.5 281,1054.2C297.7,1051.9 319.8,1048.7 340,1046C360.2,1043.3 382,1040.5 402,1038C422,1035.5 439.8,1033.3 460,1031C480.2,1028.7 499.2,1027.9 523.2,1024C547.2,1020.1 577.1,1012.8 604,1007.8C630.9,1002.8 657.7,997.7 684.6,993.7C711.5,989.7 738.4,987 765.3,983.6C792.2,980.2 823.5,976.1 846,973.5C868.5,970.9 881.2,970 900,968C918.8,966 949.2,962.5 959,961.4" stroke="#FF00FF" stroke-width="3.2"/>
<path d="M166,1089C171.7,1087.7 187.7,1083.8 200,1081C212.3,1078.2 226.5,1075.1 240,1072C253.5,1068.9 264.3,1066 281,1062.3C297.7,1058.6 319.8,1054 340,1050C360.2,1046 382,1041.5 402,1038C422,1034.5 439.8,1032 460,1029C480.2,1026 499.2,1023.9 523.2,1020C547.2,1016.1 577.1,1011.5 604,1005.8C630.9,1000.1 657.7,991.3 684.6,985.6C711.5,979.9 738.4,975.9 765.3,971.5C792.2,967.1 823.5,962.6 846,959.4C868.5,956.1 881.2,954.4 900,952C918.8,949.6 949.2,946.2 959,945" stroke="#000080" stroke-width="3.2"/>
<path d="M166,1257.7C171.7,1258.1 187.6,1259 200,1260C212.4,1261 227.2,1262.8 240.7,1263.8C254.2,1264.8 267.6,1265 281,1266C294.4,1267 304.6,1267.5 321.4,1269.8C338.2,1272.1 361.8,1278.1 382,1280C402.2,1281.9 425.7,1281 442.5,1281C459.3,1281 469.4,1281.2 482.8,1280C496.2,1278.8 509.8,1276.9 523.2,1273.9C536.7,1270.9 550,1265.5 563.5,1261.8C577,1258.1 590.5,1255.1 604,1251.7C617.5,1248.3 630.9,1243.9 644.3,1241.6C657.7,1239.2 671.1,1238.6 684.6,1237.6C698.1,1236.6 711.5,1235.5 725,1235.5C738.5,1235.5 751.8,1236.2 765.3,1237.6C778.8,1238.9 792.2,1241.6 805.7,1243.6C819.2,1245.6 832.5,1247.7 846,1249.7C859.5,1251.7 867.6,1252.3 886.4,1255.7C905.2,1259.1 946.9,1267.6 959,1270" stroke="#FF00FF" stroke-width="3.2"/>
<path d="M166,1308.2C171.7,1307.7 187.6,1306 200,1305C212.4,1304 220.5,1303.6 240.7,1302.1C260.9,1300.6 294.5,1297.8 321.4,1296.1C348.3,1294.4 375.1,1293 402,1292C428.9,1291 462.6,1291.3 482.8,1290C503,1288.7 509.8,1286 523.2,1284C536.7,1282 550,1280.4 563.5,1278C577,1275.6 590.5,1272.2 604,1269.8C617.5,1267.4 630.9,1266.1 644.3,1263.8C657.7,1261.5 671.1,1258 684.6,1255.7C698.1,1253.4 711.5,1251 725,1249.7C738.5,1248.4 751.8,1248.4 765.3,1247.7C778.8,1247 792.2,1246.1 805.7,1245.6C819.2,1245.1 832.5,1245.1 846,1244.8C859.5,1244.5 867.6,1244 886.4,1243.6C905.2,1243.2 946.9,1242.6 959,1242.4" stroke="#FF0000" stroke-width="3.2"/>
<path d="M166,1286C171.7,1286.5 187.6,1288 200,1289C212.4,1290 220.5,1290.8 240.7,1292C260.9,1293.2 294.5,1294.8 321.4,1296.1C348.3,1297.4 381.8,1298.5 402,1300.1C422.2,1301.6 429,1304.4 442.5,1305.4C456,1306.4 469.4,1306.8 482.8,1306.2C496.2,1305.7 509.8,1303.8 523.2,1302.1C536.7,1300.4 550,1298.4 563.5,1296.1C577,1293.8 590.5,1290.7 604,1288C617.5,1285.3 630.9,1282.7 644.3,1280C657.7,1277.3 671.1,1273.9 684.6,1271.9C698.1,1269.9 711.5,1269.2 725,1267.8C738.5,1266.4 755.2,1264.8 765.3,1263.8C775.4,1262.8 772,1261.8 785.5,1261.8C799,1261.8 829.2,1262.8 846,1263.8C862.8,1264.8 867.6,1265.4 886.4,1267.8C905.2,1270.2 946.9,1276.3 959,1278" stroke="#0000FF" stroke-width="3.2"/>
<path d="M166,1296.1C171.7,1296.2 187.6,1296.7 200,1297C212.4,1297.3 220.5,1296.6 240.7,1298.1C260.9,1299.6 294.5,1302.8 321.4,1306.2C348.3,1309.6 378.4,1314.6 402,1318.3C425.6,1322 445.9,1325 462.7,1328.4C479.5,1331.8 489.6,1335.3 503,1338.5C516.5,1341.7 530.6,1345.5 543.4,1347.3C556.2,1349.1 569.9,1349.1 580,1349.5C590.1,1349.9 596.7,1350.5 604,1349.7C611.3,1348.9 613.9,1347.7 624,1344.5C634.1,1341.3 650.9,1335.5 664.4,1330.4C677.9,1325.4 691.3,1319.6 704.8,1314.2C718.2,1308.8 731.6,1303.5 745.1,1298.1C758.6,1292.7 772,1287.4 785.5,1282C799,1276.6 812.4,1270.2 825.9,1265.8C839.4,1261.4 852.8,1258.7 866.2,1255.7C879.7,1252.7 891.1,1249.7 906.6,1247.7C922.1,1245.7 950.3,1244.2 959,1243.5" stroke="#007F00" stroke-width="3.2"/>
<path d="M166,1322.3C171.7,1323.3 188.1,1326.5 200.4,1328.4C212.7,1330.4 226.6,1332 240,1334C253.4,1336 264.1,1337.7 281,1340.5C297.9,1343.3 324.8,1346.9 341.6,1350.6C358.4,1354.3 368.6,1359.3 382,1362.7C395.4,1366.1 408.9,1367.7 422.3,1370.7C435.8,1373.7 449.2,1377.4 462.7,1380.8C476.1,1384.2 489.6,1388.4 503,1390.9C516.5,1393.4 529.9,1395.1 543.4,1395.8C556.9,1396.5 570.3,1396.8 583.7,1395C597.1,1393.2 610.5,1390 624,1384.9C637.5,1379.9 650.9,1371.4 664.4,1364.7C677.9,1358 691.3,1351.6 704.8,1344.5C718.2,1337.4 731.6,1329.4 745.1,1322.3C758.6,1315.2 772,1308.1 785.5,1302.1C799,1296 812.4,1290.7 825.9,1286C839.4,1281.3 852.8,1277.3 866.2,1273.9C879.7,1270.5 891.1,1268.5 906.6,1265.8C922.1,1263.1 950.3,1259 959,1257.7" stroke="#000080" stroke-width="3.2"/>
</g>
<rect x="166.5" y="814.8" width="791.8" height="647.5" fill="none" stroke="#000" stroke-width="4.5"/>
<line x1="158" y1="1461.4" x2="166.5" y2="1461.4" stroke="#000" stroke-width="4" stroke-linecap="butt"/>
<line x1="158" y1="1409" x2="166.5" y2="1409" stroke="#000" stroke-width="4" stroke-linecap="butt"/>
<line x1="158" y1="1356.6" x2="166.5" y2="1356.6" stroke="#000" stroke-width="4" stroke-linecap="butt"/>
<line x1="158" y1="1304.2" x2="166.5" y2="1304.2" stroke="#000" stroke-width="4" stroke-linecap="butt"/>
<line x1="158" y1="1251.8" x2="166.5" y2="1251.8" stroke="#000" stroke-width="4" stroke-linecap="butt"/>
<line x1="158" y1="1199.4" x2="166.5" y2="1199.4" stroke="#000" stroke-width="4" stroke-linecap="butt"/>
<line x1="158" y1="1147" x2="166.5" y2="1147" stroke="#000" stroke-width="4" stroke-linecap="butt"/>
<line x1="158" y1="1094.6" x2="166.5" y2="1094.6" stroke="#000" stroke-width="4" stroke-linecap="butt"/>
<line x1="158" y1="1042.2" x2="166.5" y2="1042.2" stroke="#000" stroke-width="4" stroke-linecap="butt"/>
<line x1="158" y1="989.8" x2="166.5" y2="989.8" stroke="#000" stroke-width="4" stroke-linecap="butt"/>
<line x1="158" y1="937.4" x2="166.5" y2="937.4" stroke="#000" stroke-width="4" stroke-linecap="butt"/>
<line x1="158" y1="885" x2="166.5" y2="885" stroke="#000" stroke-width="4" stroke-linecap="butt"/>
<line x1="158" y1="832.6" x2="166.5" y2="832.6" stroke="#000" stroke-width="4" stroke-linecap="butt"/>
<text transform="translate(136,1447.9) scale(0.97,1)" font-family="'Liberation Serif','Times New Roman',serif" font-size="33" font-weight="bold" fill="#000" text-anchor="end" style="font-kerning:none">-2.4x10</text>
<text transform="translate(137.8,1429.6) scale(0.97,1)" font-family="'Liberation Serif','Times New Roman',serif" font-size="18" font-weight="bold" fill="#000" text-anchor="start" style="font-kerning:none">-4</text>
<text transform="translate(136,1395.5) scale(0.97,1)" font-family="'Liberation Serif','Times New Roman',serif" font-size="33" font-weight="bold" fill="#000" text-anchor="end" style="font-kerning:none">-2.2x10</text>
<text transform="translate(137.8,1377.2) scale(0.97,1)" font-family="'Liberation Serif','Times New Roman',serif" font-size="18" font-weight="bold" fill="#000" text-anchor="start" style="font-kerning:none">-4</text>
<text transform="translate(136,1343.1) scale(0.97,1)" font-family="'Liberation Serif','Times New Roman',serif" font-size="33" font-weight="bold" fill="#000" text-anchor="end" style="font-kerning:none">-2.0x10</text>
<text transform="translate(137.8,1324.8) scale(0.97,1)" font-family="'Liberation Serif','Times New Roman',serif" font-size="18" font-weight="bold" fill="#000" text-anchor="start" style="font-kerning:none">-4</text>
<text transform="translate(136,1290.7) scale(0.97,1)" font-family="'Liberation Serif','Times New Roman',serif" font-size="33" font-weight="bold" fill="#000" text-anchor="end" style="font-kerning:none">-1.8x10</text>
<text transform="translate(137.8,1272.4) scale(0.97,1)" font-family="'Liberation Serif','Times New Roman',serif" font-size="18" font-weight="bold" fill="#000" text-anchor="start" style="font-kerning:none">-4</text>
<text transform="translate(136,1238.3) scale(0.97,1)" font-family="'Liberation Serif','Times New Roman',serif" font-size="33" font-weight="bold" fill="#000" text-anchor="end" style="font-kerning:none">-1.6x10</text>
<text transform="translate(137.8,1220) scale(0.97,1)" font-family="'Liberation Serif','Times New Roman',serif" font-size="18" font-weight="bold" fill="#000" text-anchor="start" style="font-kerning:none">-4</text>
<text transform="translate(136,1185.9) scale(0.97,1)" font-family="'Liberation Serif','Times New Roman',serif" font-size="33" font-weight="bold" fill="#000" text-anchor="end" style="font-kerning:none">-1.4x10</text>
<text transform="translate(137.8,1167.6) scale(0.97,1)" font-family="'Liberation Serif','Times New Roman',serif" font-size="18" font-weight="bold" fill="#000" text-anchor="start" style="font-kerning:none">-4</text>
<text transform="translate(136,1133.5) scale(0.97,1)" font-family="'Liberation Serif','Times New Roman',serif" font-size="33" font-weight="bold" fill="#000" text-anchor="end" style="font-kerning:none">-1.2x10</text>
<text transform="translate(137.8,1115.2) scale(0.97,1)" font-family="'Liberation Serif','Times New Roman',serif" font-size="18" font-weight="bold" fill="#000" text-anchor="start" style="font-kerning:none">-4</text>
<text transform="translate(136,1081.1) scale(0.97,1)" font-family="'Liberation Serif','Times New Roman',serif" font-size="33" font-weight="bold" fill="#000" text-anchor="end" style="font-kerning:none">-1.0x10</text>
<text transform="translate(137.8,1062.8) scale(0.97,1)" font-family="'Liberation Serif','Times New Roman',serif" font-size="18" font-weight="bold" fill="#000" text-anchor="start" style="font-kerning:none">-4</text>
<text transform="translate(136,1028.7) scale(0.97,1)" font-family="'Liberation Serif','Times New Roman',serif" font-size="33" font-weight="bold" fill="#000" text-anchor="end" style="font-kerning:none">-8.0x10</text>
<text transform="translate(137.8,1010.4) scale(0.97,1)" font-family="'Liberation Serif','Times New Roman',serif" font-size="18" font-weight="bold" fill="#000" text-anchor="start" style="font-kerning:none">-5</text>
<text transform="translate(136,976.3) scale(0.97,1)" font-family="'Liberation Serif','Times New Roman',serif" font-size="33" font-weight="bold" fill="#000" text-anchor="end" style="font-kerning:none">-6.0x10</text>
<text transform="translate(137.8,958) scale(0.97,1)" font-family="'Liberation Serif','Times New Roman',serif" font-size="18" font-weight="bold" fill="#000" text-anchor="start" style="font-kerning:none">-5</text>
<text transform="translate(136,923.9) scale(0.97,1)" font-family="'Liberation Serif','Times New Roman',serif" font-size="33" font-weight="bold" fill="#000" text-anchor="end" style="font-kerning:none">-4.0x10</text>
<text transform="translate(137.8,905.6) scale(0.97,1)" font-family="'Liberation Serif','Times New Roman',serif" font-size="18" font-weight="bold" fill="#000" text-anchor="start" style="font-kerning:none">-5</text>
<text transform="translate(136,871.5) scale(0.97,1)" font-family="'Liberation Serif','Times New Roman',serif" font-size="33" font-weight="bold" fill="#000" text-anchor="end" style="font-kerning:none">-2.0x10</text>
<text transform="translate(137.8,853.2) scale(0.97,1)" font-family="'Liberation Serif','Times New Roman',serif" font-size="18" font-weight="bold" fill="#000" text-anchor="start" style="font-kerning:none">-5</text>
<line x1="168.8" y1="1462.3" x2="168.8" y2="1470.8" stroke="#000" stroke-width="4" stroke-linecap="butt"/>
<line x1="214.2" y1="1462.3" x2="214.2" y2="1476.3" stroke="#000" stroke-width="4" stroke-linecap="butt"/>
<text transform="translate(214.2,1511.5) scale(0.97,1)" font-family="'Liberation Serif','Times New Roman',serif" font-size="33" font-weight="bold" fill="#000" text-anchor="middle" style="font-kerning:none">0.72</text>
<line x1="259.6" y1="1462.3" x2="259.6" y2="1470.8" stroke="#000" stroke-width="4" stroke-linecap="butt"/>
<line x1="305" y1="1462.3" x2="305" y2="1476.3" stroke="#000" stroke-width="4" stroke-linecap="butt"/>
<text transform="translate(305,1511.5) scale(0.97,1)" font-family="'Liberation Serif','Times New Roman',serif" font-size="33" font-weight="bold" fill="#000" text-anchor="middle" style="font-kerning:none">0.70</text>
<line x1="350.4" y1="1462.3" x2="350.4" y2="1470.8" stroke="#000" stroke-width="4" stroke-linecap="butt"/>
<line x1="395.8" y1="1462.3" x2="395.8" y2="1476.3" stroke="#000" stroke-width="4" stroke-linecap="butt"/>
<text transform="translate(395.8,1511.5) scale(0.97,1)" font-family="'Liberation Serif','Times New Roman',serif" font-size="33" font-weight="bold" fill="#000" text-anchor="middle" style="font-kerning:none">0.68</text>
<line x1="441.2" y1="1462.3" x2="441.2" y2="1470.8" stroke="#000" stroke-width="4" stroke-linecap="butt"/>
<line x1="486.6" y1="1462.3" x2="486.6" y2="1476.3" stroke="#000" stroke-width="4" stroke-linecap="butt"/>
<text transform="translate(486.6,1511.5) scale(0.97,1)" font-family="'Liberation Serif','Times New Roman',serif" font-size="33" font-weight="bold" fill="#000" text-anchor="middle" style="font-kerning:none">0.66</text>
<line x1="532" y1="1462.3" x2="532" y2="1470.8" stroke="#000" stroke-width="4" stroke-linecap="butt"/>
<line x1="577.4" y1="1462.3" x2="577.4" y2="1476.3" stroke="#000" stroke-width="4" stroke-linecap="butt"/>
<text transform="translate(577.4,1511.5) scale(0.97,1)" font-family="'Liberation Serif','Times New Roman',serif" font-size="33" font-weight="bold" fill="#000" text-anchor="middle" style="font-kerning:none">0.64</text>
<line x1="622.7" y1="1462.3" x2="622.7" y2="1470.8" stroke="#000" stroke-width="4" stroke-linecap="butt"/>
<line x1="668.1" y1="1462.3" x2="668.1" y2="1476.3" stroke="#000" stroke-width="4" stroke-linecap="butt"/>
<text transform="translate(668.1,1511.5) scale(0.97,1)" font-family="'Liberation Serif','Times New Roman',serif" font-size="33" font-weight="bold" fill="#000" text-anchor="middle" style="font-kerning:none">0.62</text>
<line x1="713.5" y1="1462.3" x2="713.5" y2="1470.8" stroke="#000" stroke-width="4" stroke-linecap="butt"/>
<line x1="758.9" y1="1462.3" x2="758.9" y2="1476.3" stroke="#000" stroke-width="4" stroke-linecap="butt"/>
<text transform="translate(758.9,1511.5) scale(0.97,1)" font-family="'Liberation Serif','Times New Roman',serif" font-size="33" font-weight="bold" fill="#000" text-anchor="middle" style="font-kerning:none">0.60</text>
<line x1="804.3" y1="1462.3" x2="804.3" y2="1470.8" stroke="#000" stroke-width="4" stroke-linecap="butt"/>
<line x1="849.7" y1="1462.3" x2="849.7" y2="1476.3" stroke="#000" stroke-width="4" stroke-linecap="butt"/>
<text transform="translate(849.7,1511.5) scale(0.97,1)" font-family="'Liberation Serif','Times New Roman',serif" font-size="33" font-weight="bold" fill="#000" text-anchor="middle" style="font-kerning:none">0.58</text>
<line x1="895.1" y1="1462.3" x2="895.1" y2="1470.8" stroke="#000" stroke-width="4" stroke-linecap="butt"/>
<line x1="940.5" y1="1462.3" x2="940.5" y2="1476.3" stroke="#000" stroke-width="4" stroke-linecap="butt"/>
<text transform="translate(940.5,1511.5) scale(0.97,1)" font-family="'Liberation Serif','Times New Roman',serif" font-size="33" font-weight="bold" fill="#000" text-anchor="middle" style="font-kerning:none">0.56</text>
<g clip-path="url(#cbot)">
<text transform="translate(559.5,1549.3) scale(1,1)" font-family="'Liberation Serif','Times New Roman',serif" font-size="35" font-weight="bold" fill="#000" text-anchor="middle" style="font-kerning:none">Potential (V)</text>
</g>
<text transform="translate(35,1105.8) rotate(-90)" font-family="'Liberation Serif','Times New Roman',serif" font-size="36" font-weight="bold" text-anchor="middle" style="font-kerning:none">Current (A)</text>
<rect x="170" y="858.5" width="399.6" height="86.8" fill="#fff" stroke="#6a6a5c" stroke-width="1.6"/>
<text x="205" y="896" font-family="'Liberation Serif','Times New Roman',serif" font-size="33.7" font-weight="bold" fill="#0E0E8A" text-anchor="start" style="font-kerning:none">Paracetamol-Reduction</text>
<text x="205" y="935" font-family="'Liberation Serif','Times New Roman',serif" font-size="33.7" font-weight="bold" fill="#0E0E8A" text-anchor="start" style="font-kerning:none">peak potential</text>
<text x="583" y="909" font-family="'Liberation Serif','Times New Roman',serif" font-size="45" font-weight="normal" fill="#000" text-anchor="start" style="font-kerning:none">(b)</text>
<line x1="563.5" y1="834.3" x2="636.2" y2="862.5" stroke="#000000" stroke-width="4" stroke-linecap="round"/>
<line x1="410" y1="1293" x2="476" y2="1234.4" stroke="#FF0000" stroke-width="3.2" stroke-linecap="round"/>
<line x1="472.2" y1="1294.2" x2="535.8" y2="1239.4" stroke="#0000FF" stroke-width="3.2" stroke-linecap="round"/>
<line x1="557" y1="1261.8" x2="614.3" y2="1215.7" stroke="#FF00FF" stroke-width="3.2" stroke-linecap="round"/>
<line x1="529.2" y1="1342.5" x2="659.1" y2="1233.1" stroke="#007F00" stroke-width="3.2" stroke-linecap="round"/>
<line x1="571.6" y1="1397" x2="738.8" y2="1225.7" stroke="#000080" stroke-width="3.2" stroke-linecap="round"/>
<text transform="translate(646,873) rotate(20)" font-family="'Liberation Serif','Times New Roman',serif" font-size="27" font-weight="bold" letter-spacing="0.5" style="font-kerning:none">Without PA sensor</text>
<text transform="translate(488,1236) rotate(-41.5)" font-family="'Liberation Serif','Times New Roman',serif" font-size="28.5" font-weight="bold" letter-spacing="0.6" style="font-kerning:none">1 mM PA sensor</text>
<text transform="translate(548,1244) rotate(-41.5)" font-family="'Liberation Serif','Times New Roman',serif" font-size="28.5" font-weight="bold" letter-spacing="0.6" style="font-kerning:none">2 mM PA sensor</text>
<text transform="translate(623,1220) rotate(-41.5)" font-family="'Liberation Serif','Times New Roman',serif" font-size="28.5" font-weight="bold" letter-spacing="0.6" style="font-kerning:none">3 mM PA sensor</text>
<text transform="translate(670,1235) rotate(-41.5)" font-family="'Liberation Serif','Times New Roman',serif" font-size="28.5" font-weight="bold" letter-spacing="0.6" style="font-kerning:none">4 mM PA sensor</text>
<text transform="translate(746,1227) rotate(-45)" font-family="'Liberation Serif','Times New Roman',serif" font-size="28.5" font-weight="bold" letter-spacing="0.4" style="font-kerning:none">5 mM PA sensor</text>
<text x="541" y="1433" font-family="'Liberation Sans',Arial,sans-serif" font-size="29" fill="#111">0.64 V</text>
<rect x="1199.3" y="816.3" width="793.1" height="644" fill="#FFFECC"/>
<g clip-path="url(#cc)" fill="none" stroke-linejoin="round" stroke-linecap="round">
<path d="M1198,1434.7C1210.8,1434.6 1248.6,1434.2 1274.7,1433.9C1300.8,1433.6 1336.5,1433.1 1354.4,1432.7C1372.3,1432.3 1376.7,1431.5 1382.3,1431.5C1387.9,1431.5 1386,1432.1 1388,1433C1390,1433.9 1392.3,1436.7 1394.3,1436.7C1396.3,1436.7 1398,1434 1400,1433C1402,1432 1397.2,1431.7 1406.2,1430.7C1415.2,1429.7 1439.5,1430.1 1454.1,1426.8C1468.7,1423.5 1480.7,1415.4 1494,1410.8C1507.3,1406.2 1523.8,1401.8 1533.8,1398.9C1543.8,1396 1545.4,1396.6 1553.7,1393.5C1562,1390.4 1574.2,1384.2 1583.7,1380.3C1593.2,1376.4 1599.8,1373.6 1610.8,1370.2C1621.8,1366.8 1639.4,1363.2 1649.8,1360C1660.2,1356.8 1659.4,1354.2 1673.3,1351C1687.2,1347.8 1713.1,1342.5 1733,1341C1752.9,1339.5 1769.5,1341.8 1792.8,1342.3C1816.1,1342.8 1839.2,1343.6 1872.6,1343.9C1906,1344.2 1972.9,1343.9 1993,1343.9" stroke="#000000" stroke-width="5.2"/>
<path d="M1198,1364.5C1203.3,1361.4 1218.7,1352.4 1229.7,1345.8C1240.8,1339.2 1252.8,1332.2 1264.3,1325C1275.8,1317.8 1287.5,1310.6 1299,1302.5C1310.5,1294.4 1322,1285.8 1333.6,1276.5C1345.1,1267.2 1358.2,1256.8 1368.3,1247C1378.4,1237.2 1385.6,1227.7 1394.3,1217.6C1403,1207.5 1411.6,1196.5 1420.3,1186.4C1429,1176.3 1438.1,1166.2 1446.3,1157C1454.5,1147.8 1461.6,1138.7 1469.3,1131C1477,1123.3 1484.7,1117.4 1492.4,1111C1500.1,1104.6 1507.9,1098.2 1515.6,1092.5C1523.3,1086.8 1531,1082.4 1538.7,1077C1546.4,1071.6 1554.6,1065 1561.8,1060.1C1569,1055.2 1576.1,1051.9 1581.8,1047.8C1587.5,1043.7 1591.8,1039.9 1595.7,1035.5C1599.6,1031.1 1602.1,1026.5 1604.9,1021.6C1607.7,1016.7 1610,1011.6 1612.6,1006.2C1615.2,1000.8 1617.4,996.6 1620.3,989.2C1623.2,981.8 1626.7,971 1630,962C1633.3,953 1636.4,945 1640,935C1643.6,925 1647.8,913 1651.6,902.2C1655.4,891.4 1659.2,879.1 1663.1,870.4C1666.9,861.7 1670.4,854.8 1674.7,850.2C1679,845.6 1684.9,843.7 1689.1,843C1693.3,842.3 1696.6,843.4 1700,846C1703.4,848.6 1705.3,851 1709.3,858.9C1713.3,866.8 1719.5,881.5 1723.8,893.5C1728.1,905.5 1731,917.6 1735.3,931.1C1739.6,944.6 1745,960.4 1749.8,974.4C1754.6,988.4 1758.4,1000.5 1764.2,1014.9C1770,1029.3 1777.7,1046.6 1784.4,1061C1791.1,1075.4 1797.4,1089 1804.6,1101.5C1811.8,1114 1820.1,1125.6 1827.8,1136.2C1835.5,1146.8 1842.7,1155.4 1850.9,1165C1859.1,1174.6 1867.8,1186.3 1876.9,1194C1886,1201.7 1895.1,1206 1905.7,1211.3C1916.3,1216.6 1930.3,1221.8 1940.4,1225.7C1950.5,1229.6 1960.1,1233.4 1966.4,1234.4C1972.7,1235.4 1974.6,1233.9 1978,1231.5C1981.4,1229.1 1983.9,1224.8 1986.6,1220C1989.3,1215.2 1992.8,1205.8 1994,1203" stroke="#FF0000" stroke-width="5.2"/>
<path d="M1198,1397C1203.3,1395 1218.7,1389.7 1229.7,1385C1240.8,1380.3 1252.8,1374.8 1264.3,1369C1275.8,1363.2 1287.5,1357 1299,1350C1310.5,1343 1322,1334.7 1333.6,1327C1345.1,1319.3 1356.7,1311.7 1368.3,1304C1379.9,1296.3 1391.5,1289.8 1403,1281C1414.5,1272.2 1427,1260.8 1437.6,1251C1448.1,1241.2 1455.9,1232.7 1466.3,1222C1476.7,1211.3 1489.4,1197.3 1500.2,1187C1511,1176.7 1520.7,1168.9 1531,1160.3C1541.3,1151.7 1551.5,1143.3 1561.8,1135.6C1572.1,1127.9 1582.3,1120.9 1592.6,1114C1602.9,1107.1 1614.4,1099.1 1623.4,1094C1632.4,1088.9 1639.6,1086.8 1646.5,1083.2C1653.4,1079.6 1659.1,1077.3 1665,1072.4C1670.9,1067.5 1677.4,1060.9 1682,1054C1686.6,1047.1 1689.8,1038 1692.8,1030.8C1695.8,1023.6 1696.8,1021.2 1700,1010.8C1703.2,1000.4 1707.8,982.9 1712.2,968.6C1716.7,954.4 1722.4,937.3 1726.7,925.3C1731,913.3 1734.4,903.6 1738.2,896.4C1742,889.2 1746.7,883.9 1749.8,882C1752.9,880.1 1754.6,882.6 1757,885C1759.4,887.4 1760.1,889.2 1764.2,896.4C1768.3,903.6 1775.7,916.2 1781.5,928.2C1787.3,940.2 1793.1,954.2 1798.9,968.6C1804.7,983 1810.4,999.5 1816.2,1014.9C1822,1030.3 1827.7,1047.5 1833.5,1061C1839.3,1074.5 1844.6,1084.6 1850.9,1095.7C1857.2,1106.8 1863.9,1117.9 1871.1,1127.5C1878.3,1137.1 1885.5,1144.3 1894.2,1153.5C1902.9,1162.7 1913.5,1174.2 1923.1,1182.4C1932.7,1190.6 1942.8,1197.3 1952,1202.6C1961.2,1207.9 1972.7,1213.2 1978,1214.2C1983.3,1215.2 1981,1212.4 1983.7,1208.4C1986.4,1204.4 1992.3,1193.1 1994,1190" stroke="#007F00" stroke-width="5.2"/>
<path d="M1198,1394.5C1203.3,1392.5 1218.7,1387.1 1229.7,1382.2C1240.8,1377.3 1252.8,1371.1 1264.3,1365C1275.8,1358.9 1287.5,1353 1299,1345.8C1310.5,1338.6 1322,1329.4 1333.6,1321.6C1345.1,1313.8 1356.7,1306.8 1368.3,1299C1379.9,1291.2 1391.5,1283.5 1403,1274.8C1414.5,1266.1 1427.5,1256.2 1437.6,1247C1447.7,1237.8 1454.9,1230.5 1463.6,1219.3C1472.3,1208.1 1481.3,1190.9 1490,1180C1498.7,1169.1 1507.5,1162.3 1515.6,1154.1C1523.7,1145.9 1531,1138.2 1538.7,1131C1546.4,1123.8 1554.1,1117.4 1561.8,1111C1569.5,1104.6 1577.2,1098.7 1584.9,1092.5C1592.6,1086.3 1600.3,1079.4 1608,1074C1615.7,1068.6 1623.4,1064.2 1631.1,1060.1C1638.8,1056 1647,1052.9 1654.2,1049.3C1661.4,1045.7 1668.4,1043.7 1674.3,1038.6C1680.2,1033.5 1684.8,1026.3 1689.7,1018.5C1694.6,1010.7 1698.8,1003 1703.5,991.8C1708.2,980.6 1713.2,964.8 1718,951.3C1722.8,937.8 1728.1,922 1732.4,910.9C1736.7,899.8 1740.4,890.7 1744,884.9C1747.6,879.1 1751.1,877.2 1754.1,876.2C1757.1,875.2 1759.3,877.1 1762,879C1764.7,880.9 1765.8,881 1770,887.8C1774.2,894.5 1781.5,907.5 1787.3,919.5C1793.1,931.5 1798.8,945.1 1804.6,960C1810.4,974.9 1816.2,992.3 1822,1009.1C1827.8,1025.9 1833.5,1046.1 1839.3,1061C1845.1,1075.9 1850.3,1087 1856.6,1098.6C1862.9,1110.2 1869.7,1119.8 1876.9,1130.4C1884.1,1141 1891.3,1152.1 1900,1162.2C1908.7,1172.3 1919.3,1182.9 1928.9,1191.1C1938.5,1199.3 1946.9,1205 1957.7,1211.3C1968.5,1217.6 1988,1226 1994,1229" stroke="#000080" stroke-width="5.2"/>
<path d="M1198,1407C1203.3,1404.9 1218.7,1399.1 1229.7,1394.4C1240.8,1389.7 1252.8,1384.6 1264.3,1378.8C1275.8,1373 1287.5,1366.6 1299,1359.7C1310.5,1352.8 1322,1345 1333.6,1337.2C1345.1,1329.4 1356.7,1321 1368.3,1312.9C1379.9,1304.8 1391.5,1297.2 1403,1288.6C1414.5,1279.9 1427.5,1269.7 1437.6,1261C1447.7,1252.3 1457,1242.9 1463.6,1236.7C1470.2,1230.5 1469.6,1231.3 1477,1224C1484.4,1216.7 1497.6,1202.4 1507.9,1192.6C1518.2,1182.8 1528.4,1174.1 1538.7,1164.9C1549,1155.7 1559.2,1145.2 1569.5,1137.2C1579.8,1129.2 1590.5,1123.8 1600.3,1117.1C1610,1110.4 1620.8,1103.5 1628,1097.1C1635.2,1090.7 1639.2,1085.1 1643.5,1078.6C1647.8,1072.1 1650.6,1065.8 1654,1058C1657.4,1050.2 1660.8,1040.8 1664,1032C1667.2,1023.2 1670.2,1014.5 1673,1005C1675.8,995.5 1678.3,985 1681,975C1683.7,965 1686.2,956.7 1689,945C1691.8,933.3 1694.6,915.8 1698,905C1701.4,894.2 1705.5,886 1709.3,880.5C1713.1,875 1717.8,873 1720.9,871.9C1724,870.8 1725.6,871.8 1728,874C1730.4,876.2 1731.7,876.8 1735.3,884.9C1738.9,893 1745,908.9 1749.8,922.4C1754.6,935.9 1759.4,951.8 1764.2,965.8C1769,979.8 1773.3,992.2 1778.6,1006.2C1783.9,1020.2 1790.2,1036 1796,1049.5C1801.8,1063 1806.6,1074.5 1813.3,1087C1820,1099.5 1828.7,1113 1836.4,1124.6C1844.1,1136.2 1850.8,1145.8 1859.5,1156.4C1868.2,1167 1878.8,1178.6 1888.4,1188.2C1898,1197.8 1907.7,1206.5 1917.3,1214.2C1926.9,1221.9 1933.4,1227.8 1946.2,1234.4C1959,1241 1986,1250.7 1994,1254" stroke="#FF00FF" stroke-width="5.2"/>
<path d="M1198,1391.5C1203.3,1389.4 1218.7,1383.5 1229.7,1378.8C1240.8,1374.1 1252.8,1369.6 1264.3,1363.2C1275.8,1356.8 1287.5,1348.7 1299,1340.6C1310.5,1332.5 1322,1323 1333.6,1314.6C1345.1,1306.2 1358.2,1298.5 1368.3,1290.4C1378.4,1282.3 1385.6,1273.9 1394.3,1266.1C1403,1258.3 1411.6,1251.3 1420.3,1243.6C1429,1235.9 1436.8,1229.5 1446.2,1220C1455.7,1210.5 1466.7,1196.7 1477,1186.5C1487.3,1176.3 1498.9,1166.4 1507.9,1158.7C1516.9,1151 1523.3,1145.6 1531,1140.2C1538.7,1134.8 1546.4,1130.5 1554.1,1126.4C1561.8,1122.3 1570,1120.5 1577.2,1115.6C1584.4,1110.7 1591.3,1103.3 1597.2,1097.1C1603.1,1090.9 1608.8,1084.2 1612.6,1078.6C1616.4,1072.9 1618,1068.8 1620.3,1063.2C1622.6,1057.6 1624.2,1050.9 1626.5,1044.7C1628.8,1038.5 1631.8,1032.8 1634.2,1026.2C1636.6,1019.6 1638.7,1012.4 1641,1005C1643.3,997.6 1645.7,990.8 1648,982C1650.3,973.2 1652.5,963.4 1655,952C1657.5,940.6 1659.8,926.4 1663.1,913.8C1666.4,901.2 1670.8,885.8 1674.7,876.2C1678.6,866.6 1682.8,860.1 1686.2,856C1689.6,851.9 1692.1,851.7 1694.9,851.7C1697.7,851.7 1700.1,852.9 1703,856C1705.9,859.1 1708.2,861.2 1712.2,870.4C1716.2,879.5 1721.9,896.9 1726.7,910.9C1731.5,924.9 1736.3,939.8 1741.1,954.2C1745.9,968.6 1750.7,983 1755.5,997.5C1760.3,1012 1765.2,1027.4 1770,1040.9C1774.8,1054.4 1779.1,1066.9 1784.4,1078.4C1789.7,1090 1795,1099.6 1801.8,1110.2C1808.5,1120.8 1816.7,1132.4 1824.9,1142C1833.1,1151.6 1841.8,1158.9 1850.9,1168C1860,1177.1 1870.1,1188.1 1879.7,1196.8C1889.3,1205.5 1899,1213.2 1908.6,1220C1918.2,1226.8 1927.9,1232.5 1937.5,1237.3C1947.1,1242.1 1957,1245.8 1966.4,1248.8C1975.8,1251.8 1989.4,1254 1994,1255" stroke="#0000FF" stroke-width="5.2"/>
<path d="M1874,1462C1878.3,1458.3 1889,1449.5 1900,1440C1911,1430.5 1924.5,1416.7 1940,1405C1955.5,1393.3 1984.2,1375.8 1993,1370" stroke="#FF0000" stroke-width="5.2"/>
<path d="M1936,1462C1940,1460.3 1950.5,1455.2 1960,1452C1969.5,1448.8 1987.5,1444.5 1993,1443" stroke="#FF00FF" stroke-width="5.2"/>
<path d="M1972,1462 L1993,1450" stroke="#0000FF" stroke-width="5.2"/>
</g>
<rect x="1199.3" y="816.3" width="793.1" height="644" fill="none" stroke="#000" stroke-width="4.5"/>
<line x1="1185.3" y1="1435.2" x2="1199.3" y2="1435.2" stroke="#000" stroke-width="4" stroke-linecap="butt"/>
<line x1="1191.8" y1="1389" x2="1199.3" y2="1389" stroke="#000" stroke-width="4" stroke-linecap="butt"/>
<line x1="1185.3" y1="1342.8" x2="1199.3" y2="1342.8" stroke="#000" stroke-width="4" stroke-linecap="butt"/>
<line x1="1191.8" y1="1296.6" x2="1199.3" y2="1296.6" stroke="#000" stroke-width="4" stroke-linecap="butt"/>
<line x1="1185.3" y1="1250.4" x2="1199.3" y2="1250.4" stroke="#000" stroke-width="4" stroke-linecap="butt"/>
<line x1="1191.8" y1="1204.2" x2="1199.3" y2="1204.2" stroke="#000" stroke-width="4" stroke-linecap="butt"/>
<line x1="1185.3" y1="1158" x2="1199.3" y2="1158" stroke="#000" stroke-width="4" stroke-linecap="butt"/>
<line x1="1191.8" y1="1111.8" x2="1199.3" y2="1111.8" stroke="#000" stroke-width="4" stroke-linecap="butt"/>
<line x1="1185.3" y1="1065.6" x2="1199.3" y2="1065.6" stroke="#000" stroke-width="4" stroke-linecap="butt"/>
<line x1="1191.8" y1="1019.4" x2="1199.3" y2="1019.4" stroke="#000" stroke-width="4" stroke-linecap="butt"/>
<line x1="1185.3" y1="973.2" x2="1199.3" y2="973.2" stroke="#000" stroke-width="4" stroke-linecap="butt"/>
<line x1="1191.8" y1="927" x2="1199.3" y2="927" stroke="#000" stroke-width="4" stroke-linecap="butt"/>
<line x1="1185.3" y1="880.8" x2="1199.3" y2="880.8" stroke="#000" stroke-width="4" stroke-linecap="butt"/>
<line x1="1191.8" y1="834.6" x2="1199.3" y2="834.6" stroke="#000" stroke-width="4" stroke-linecap="butt"/>
<text transform="translate(1178,1441.7) scale(0.97,1)" font-family="'Liberation Serif','Times New Roman',serif" font-size="33" font-weight="bold" fill="#000" text-anchor="end" style="font-kerning:none">0.0</text>
<text transform="translate(1160.7,1355.5) scale(0.97,1)" font-family="'Liberation Serif','Times New Roman',serif" font-size="33" font-weight="bold" fill="#000" text-anchor="end" style="font-kerning:none">4.0x10</text>
<text transform="translate(1162.5,1337.2) scale(0.97,1)" font-family="'Liberation Serif','Times New Roman',serif" font-size="18" font-weight="bold" fill="#000" text-anchor="start" style="font-kerning:none">-5</text>
<text transform="translate(1160.7,1263.1) scale(0.97,1)" font-family="'Liberation Serif','Times New Roman',serif" font-size="33" font-weight="bold" fill="#000" text-anchor="end" style="font-kerning:none">8.0x10</text>
<text transform="translate(1162.5,1244.8) scale(0.97,1)" font-family="'Liberation Serif','Times New Roman',serif" font-size="18" font-weight="bold" fill="#000" text-anchor="start" style="font-kerning:none">-5</text>
<text transform="translate(1160.7,1170.7) scale(0.97,1)" font-family="'Liberation Serif','Times New Roman',serif" font-size="33" font-weight="bold" fill="#000" text-anchor="end" style="font-kerning:none">1.2x10</text>
<text transform="translate(1162.5,1152.4) scale(0.97,1)" font-family="'Liberation Serif','Times New Roman',serif" font-size="18" font-weight="bold" fill="#000" text-anchor="start" style="font-kerning:none">-4</text>
<text transform="translate(1160.7,1078.3) scale(0.97,1)" font-family="'Liberation Serif','Times New Roman',serif" font-size="33" font-weight="bold" fill="#000" text-anchor="end" style="font-kerning:none">1.6x10</text>
<text transform="translate(1162.5,1060) scale(0.97,1)" font-family="'Liberation Serif','Times New Roman',serif" font-size="18" font-weight="bold" fill="#000" text-anchor="start" style="font-kerning:none">-4</text>
<text transform="translate(1160.7,985.9) scale(0.97,1)" font-family="'Liberation Serif','Times New Roman',serif" font-size="33" font-weight="bold" fill="#000" text-anchor="end" style="font-kerning:none">2.0x10</text>
<text transform="translate(1162.5,967.6) scale(0.97,1)" font-family="'Liberation Serif','Times New Roman',serif" font-size="18" font-weight="bold" fill="#000" text-anchor="start" style="font-kerning:none">-4</text>
<text transform="translate(1160.7,893.5) scale(0.97,1)" font-family="'Liberation Serif','Times New Roman',serif" font-size="33" font-weight="bold" fill="#000" text-anchor="end" style="font-kerning:none">2.4x10</text>
<text transform="translate(1162.5,875.2) scale(0.97,1)" font-family="'Liberation Serif','Times New Roman',serif" font-size="18" font-weight="bold" fill="#000" text-anchor="start" style="font-kerning:none">-4</text>
<line x1="1221.1" y1="1460.3" x2="1221.1" y2="1474.3" stroke="#000" stroke-width="4" stroke-linecap="butt"/>
<text transform="translate(1221.1,1508.5) scale(0.97,1)" font-family="'Liberation Serif','Times New Roman',serif" font-size="33" font-weight="bold" fill="#000" text-anchor="middle" style="font-kerning:none">0.24</text>
<line x1="1305" y1="1460.3" x2="1305" y2="1468.8" stroke="#000" stroke-width="4" stroke-linecap="butt"/>
<line x1="1389" y1="1460.3" x2="1389" y2="1474.3" stroke="#000" stroke-width="4" stroke-linecap="butt"/>
<text transform="translate(1389,1508.5) scale(0.97,1)" font-family="'Liberation Serif','Times New Roman',serif" font-size="33" font-weight="bold" fill="#000" text-anchor="middle" style="font-kerning:none">0.16</text>
<line x1="1473" y1="1460.3" x2="1473" y2="1468.8" stroke="#000" stroke-width="4" stroke-linecap="butt"/>
<line x1="1556.9" y1="1460.3" x2="1556.9" y2="1474.3" stroke="#000" stroke-width="4" stroke-linecap="butt"/>
<text transform="translate(1556.9,1508.5) scale(0.97,1)" font-family="'Liberation Serif','Times New Roman',serif" font-size="33" font-weight="bold" fill="#000" text-anchor="middle" style="font-kerning:none">0.08</text>
<line x1="1640.8" y1="1460.3" x2="1640.8" y2="1468.8" stroke="#000" stroke-width="4" stroke-linecap="butt"/>
<line x1="1724.8" y1="1460.3" x2="1724.8" y2="1474.3" stroke="#000" stroke-width="4" stroke-linecap="butt"/>
<text transform="translate(1724.8,1508.5) scale(0.97,1)" font-family="'Liberation Serif','Times New Roman',serif" font-size="33" font-weight="bold" fill="#000" text-anchor="middle" style="font-kerning:none">0.00</text>
<line x1="1808.8" y1="1460.3" x2="1808.8" y2="1468.8" stroke="#000" stroke-width="4" stroke-linecap="butt"/>
<line x1="1892.7" y1="1460.3" x2="1892.7" y2="1474.3" stroke="#000" stroke-width="4" stroke-linecap="butt"/>
<text transform="translate(1892.7,1508.5) scale(0.97,1)" font-family="'Liberation Serif','Times New Roman',serif" font-size="33" font-weight="bold" fill="#000" text-anchor="middle" style="font-kerning:none">-0.08</text>
<line x1="1976.6" y1="1460.3" x2="1976.6" y2="1468.8" stroke="#000" stroke-width="4" stroke-linecap="butt"/>
<g clip-path="url(#cbot)">
<text transform="translate(1593.7,1548) scale(1,1)" font-family="'Liberation Serif','Times New Roman',serif" font-size="35" font-weight="bold" fill="#000" text-anchor="middle" style="font-kerning:none">Potential (V)</text>
</g>
<text transform="translate(1069.5,1107) rotate(-90)" font-family="'Liberation Serif','Times New Roman',serif" font-size="36" font-weight="bold" text-anchor="middle" style="font-kerning:none">Current (A)</text>
<rect x="1205" y="822" width="394.5" height="86.8" fill="#fff" stroke="#6a6a5c" stroke-width="1.6"/>
<text x="1238" y="860" font-family="'Liberation Serif','Times New Roman',serif" font-size="33.7" font-weight="bold" fill="#0E0E8A" text-anchor="start" style="font-kerning:none">Paracetamol-Oxidation</text>
<text x="1238" y="901" font-family="'Liberation Serif','Times New Roman',serif" font-size="33.7" font-weight="bold" fill="#0E0E8A" text-anchor="start" style="font-kerning:none">peak potential</text>
<text x="1881" y="863" font-family="'Liberation Serif','Times New Roman',serif" font-size="45" font-weight="normal" fill="#000" text-anchor="start" style="font-kerning:none">(c)</text>
<line x1="1584.6" y1="1385.4" x2="1656.6" y2="1394.7" stroke="#000000" stroke-width="5.5" stroke-linecap="round"/>
<line x1="1450.8" y1="1154.1" x2="1523.3" y2="1197.3" stroke="#FF0000" stroke-width="5.5" stroke-linecap="round"/>
<line x1="1517.1" y1="1155.7" x2="1589.5" y2="1195.7" stroke="#000080" stroke-width="5.5" stroke-linecap="round"/>
<line x1="1563.3" y1="1135.6" x2="1637.3" y2="1175.7" stroke="#007F00" stroke-width="5.5" stroke-linecap="round"/>
<line x1="1597.2" y1="1114" x2="1668.1" y2="1151" stroke="#FF00FF" stroke-width="5.5" stroke-linecap="round"/>
<line x1="1614.2" y1="1080.2" x2="1680.4" y2="1116.4" stroke="#0000FF" stroke-width="5.5" stroke-linecap="round"/>
<text transform="translate(1681,1130) rotate(30)" font-family="'Liberation Serif','Times New Roman',serif" font-size="25" font-weight="bold" letter-spacing="1.1" style="font-kerning:none">2 mM PA sensor</text>
<text transform="translate(1670,1163) rotate(28)" font-family="'Liberation Serif','Times New Roman',serif" font-size="25" font-weight="bold" letter-spacing="1.65" style="font-kerning:none">3 mM PA sensor</text>
<text transform="translate(1642,1189) rotate(27)" font-family="'Liberation Serif','Times New Roman',serif" font-size="25" font-weight="bold" letter-spacing="1.65" style="font-kerning:none">4 mM PA sensor</text>
<text transform="translate(1590,1208) rotate(28.4)" font-family="'Liberation Serif','Times New Roman',serif" font-size="25" font-weight="bold" letter-spacing="1.95" style="font-kerning:none">5 mM PA sensor</text>
<text transform="translate(1526,1212) rotate(28.8)" font-family="'Liberation Serif','Times New Roman',serif" font-size="25" font-weight="bold" letter-spacing="2.6" style="font-kerning:none">1 mM PA sensor</text>
<text transform="translate(1666,1404) rotate(7)" font-family="'Liberation Serif','Times New Roman',serif" font-size="25" font-weight="bold" letter-spacing="0.7" style="font-kerning:none">Without PA sensor</text>
</svg></body></html>
